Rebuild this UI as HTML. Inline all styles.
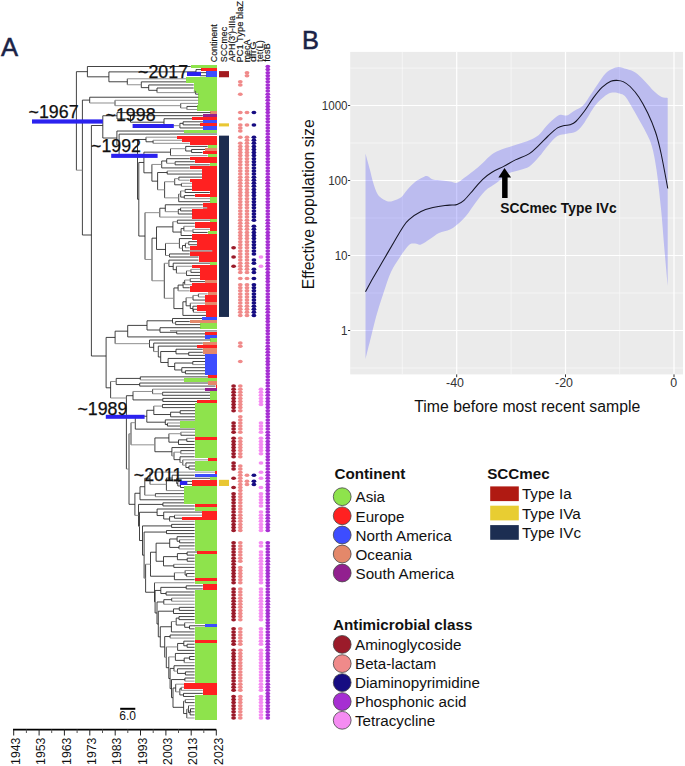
<!DOCTYPE html>
<html><head><meta charset="utf-8">
<style>
html,body{margin:0;padding:0;background:#fff;}
body{width:685px;height:766px;overflow:hidden;}
svg{display:block;font-family:"Liberation Sans",sans-serif;}
</style></head>
<body>
<svg width="685" height="766" viewBox="0 0 685 766">
<!-- Panel labels -->
<text x="1.1" y="55.7" font-size="25.6" fill="#1a2347" stroke="#1a2347" stroke-width="0.5">A</text>
<text x="302.1" y="48.9" font-size="25.4" fill="#1a2347" stroke="#1a2347" stroke-width="0.5">B</text>

<!-- Tree panel -->
<g id="tree">
<rect x="190.7" y="64.96" width="26.3" height="3.12" fill="#8ee34c" shape-rendering="crispEdges"/>
<rect x="201.4" y="68.04" width="15.6" height="3.12" fill="#ff2121" shape-rendering="crispEdges"/>
<rect x="206.3" y="71.11" width="10.7" height="3.12" fill="#3d4dff" shape-rendering="crispEdges"/>
<rect x="206.3" y="74.18" width="10.7" height="3.12" fill="#3d4dff" shape-rendering="crispEdges"/>
<rect x="186.0" y="77.26" width="31.0" height="3.12" fill="#8ee34c" shape-rendering="crispEdges"/>
<rect x="186.0" y="80.33" width="31.0" height="3.12" fill="#8ee34c" shape-rendering="crispEdges"/>
<rect x="193.7" y="83.40" width="23.3" height="3.12" fill="#8ee34c" shape-rendering="crispEdges"/>
<rect x="193.7" y="86.47" width="23.3" height="3.12" fill="#8ee34c" shape-rendering="crispEdges"/>
<rect x="193.7" y="89.55" width="23.3" height="3.12" fill="#8ee34c" shape-rendering="crispEdges"/>
<rect x="198.4" y="92.62" width="18.6" height="3.12" fill="#8ee34c" shape-rendering="crispEdges"/>
<rect x="198.4" y="95.69" width="18.6" height="3.12" fill="#8ee34c" shape-rendering="crispEdges"/>
<rect x="198.4" y="98.77" width="18.6" height="3.12" fill="#8ee34c" shape-rendering="crispEdges"/>
<rect x="198.4" y="101.84" width="18.6" height="3.12" fill="#8ee34c" shape-rendering="crispEdges"/>
<rect x="197.4" y="104.91" width="19.6" height="3.12" fill="#8ee34c" shape-rendering="crispEdges"/>
<rect x="197.4" y="107.99" width="19.6" height="3.12" fill="#8ee34c" shape-rendering="crispEdges"/>
<rect x="210.4" y="111.06" width="6.6" height="3.12" fill="#e4886a" shape-rendering="crispEdges"/>
<rect x="202.8" y="114.13" width="14.2" height="3.12" fill="#92208f" shape-rendering="crispEdges"/>
<rect x="192.0" y="117.20" width="25.0" height="3.12" fill="#ff2121" shape-rendering="crispEdges"/>
<rect x="203.0" y="120.28" width="14.0" height="3.12" fill="#3d4dff" shape-rendering="crispEdges"/>
<rect x="200.3" y="123.35" width="16.7" height="3.12" fill="#ff2121" shape-rendering="crispEdges"/>
<rect x="203.0" y="126.42" width="14.0" height="3.12" fill="#3d4dff" shape-rendering="crispEdges"/>
<rect x="184.0" y="129.50" width="33.0" height="3.12" fill="#8ee34c" shape-rendering="crispEdges"/>
<rect x="176.9" y="135.64" width="40.1" height="3.12" fill="#ff2121" shape-rendering="crispEdges"/>
<rect x="182.0" y="138.72" width="35.0" height="3.12" fill="#ff2121" shape-rendering="crispEdges"/>
<rect x="189.7" y="141.79" width="27.3" height="3.12" fill="#ff2121" shape-rendering="crispEdges"/>
<rect x="207.6" y="144.86" width="9.4" height="3.12" fill="#8ee34c" shape-rendering="crispEdges"/>
<rect x="205.0" y="147.93" width="12.0" height="3.12" fill="#e4886a" shape-rendering="crispEdges"/>
<rect x="202.5" y="151.01" width="14.5" height="3.12" fill="#ff2121" shape-rendering="crispEdges"/>
<rect x="207.6" y="154.08" width="9.4" height="3.12" fill="#8ee34c" shape-rendering="crispEdges"/>
<rect x="189.7" y="157.15" width="27.3" height="3.12" fill="#ff2121" shape-rendering="crispEdges"/>
<rect x="194.8" y="160.23" width="22.2" height="3.12" fill="#ff2121" shape-rendering="crispEdges"/>
<rect x="209.8" y="163.30" width="7.2" height="3.12" fill="#8ee34c" shape-rendering="crispEdges"/>
<rect x="189.7" y="166.37" width="27.3" height="3.12" fill="#ff2121" shape-rendering="crispEdges"/>
<rect x="202.0" y="169.45" width="15.0" height="3.12" fill="#ff2121" shape-rendering="crispEdges"/>
<rect x="202.0" y="172.52" width="15.0" height="3.12" fill="#ff2121" shape-rendering="crispEdges"/>
<rect x="202.0" y="175.59" width="15.0" height="3.12" fill="#ff2121" shape-rendering="crispEdges"/>
<rect x="189.7" y="178.66" width="27.3" height="3.12" fill="#ff2121" shape-rendering="crispEdges"/>
<rect x="191.9" y="181.74" width="25.1" height="3.12" fill="#ff2121" shape-rendering="crispEdges"/>
<rect x="191.9" y="184.81" width="25.1" height="3.12" fill="#ff2121" shape-rendering="crispEdges"/>
<rect x="191.9" y="187.88" width="25.1" height="3.12" fill="#ff2121" shape-rendering="crispEdges"/>
<rect x="209.8" y="190.96" width="7.2" height="3.12" fill="#ff2121" shape-rendering="crispEdges"/>
<rect x="194.8" y="194.03" width="22.2" height="3.12" fill="#ff2121" shape-rendering="crispEdges"/>
<rect x="210.1" y="197.10" width="6.9" height="3.12" fill="#8ee34c" shape-rendering="crispEdges"/>
<rect x="210.1" y="200.18" width="6.9" height="3.12" fill="#8ee34c" shape-rendering="crispEdges"/>
<rect x="202.8" y="203.25" width="14.2" height="3.12" fill="#ff2121" shape-rendering="crispEdges"/>
<rect x="202.8" y="206.32" width="14.2" height="3.12" fill="#ff2121" shape-rendering="crispEdges"/>
<rect x="192.3" y="209.39" width="24.7" height="3.12" fill="#ff2121" shape-rendering="crispEdges"/>
<rect x="192.3" y="212.47" width="24.7" height="3.12" fill="#ff2121" shape-rendering="crispEdges"/>
<rect x="192.3" y="215.54" width="24.7" height="3.12" fill="#ff2121" shape-rendering="crispEdges"/>
<rect x="210.1" y="218.61" width="6.9" height="3.12" fill="#8ee34c" shape-rendering="crispEdges"/>
<rect x="194.8" y="221.69" width="22.2" height="3.12" fill="#ff2121" shape-rendering="crispEdges"/>
<rect x="194.8" y="224.76" width="22.2" height="3.12" fill="#ff2121" shape-rendering="crispEdges"/>
<rect x="209.8" y="227.83" width="7.2" height="3.12" fill="#ff2121" shape-rendering="crispEdges"/>
<rect x="207.6" y="230.91" width="9.4" height="3.12" fill="#8ee34c" shape-rendering="crispEdges"/>
<rect x="191.9" y="233.98" width="25.1" height="3.12" fill="#ff2121" shape-rendering="crispEdges"/>
<rect x="191.9" y="237.05" width="25.1" height="3.12" fill="#ff2121" shape-rendering="crispEdges"/>
<rect x="197.0" y="240.12" width="20.0" height="3.12" fill="#ff2121" shape-rendering="crispEdges"/>
<rect x="197.0" y="243.20" width="20.0" height="3.12" fill="#ff2121" shape-rendering="crispEdges"/>
<rect x="189.7" y="246.27" width="27.3" height="3.12" fill="#ff2121" shape-rendering="crispEdges"/>
<rect x="189.7" y="249.34" width="27.3" height="3.12" fill="#ff2121" shape-rendering="crispEdges"/>
<rect x="189.7" y="252.42" width="27.3" height="3.12" fill="#ff2121" shape-rendering="crispEdges"/>
<rect x="198.5" y="255.49" width="18.5" height="3.12" fill="#ff2121" shape-rendering="crispEdges"/>
<rect x="198.5" y="258.56" width="18.5" height="3.12" fill="#ff2121" shape-rendering="crispEdges"/>
<rect x="210.0" y="261.64" width="7.0" height="3.12" fill="#8ee34c" shape-rendering="crispEdges"/>
<rect x="192.3" y="264.71" width="24.7" height="3.12" fill="#ff2121" shape-rendering="crispEdges"/>
<rect x="200.0" y="267.78" width="17.0" height="3.12" fill="#ff2121" shape-rendering="crispEdges"/>
<rect x="200.0" y="270.85" width="17.0" height="3.12" fill="#ff2121" shape-rendering="crispEdges"/>
<rect x="200.0" y="273.93" width="17.0" height="3.12" fill="#ff2121" shape-rendering="crispEdges"/>
<rect x="200.0" y="277.00" width="17.0" height="3.12" fill="#ff2121" shape-rendering="crispEdges"/>
<rect x="205.0" y="280.07" width="12.0" height="3.12" fill="#e4886a" shape-rendering="crispEdges"/>
<rect x="191.9" y="283.15" width="25.1" height="3.12" fill="#ff2121" shape-rendering="crispEdges"/>
<rect x="189.7" y="286.22" width="27.3" height="3.12" fill="#ff2121" shape-rendering="crispEdges"/>
<rect x="189.7" y="289.29" width="27.3" height="3.12" fill="#ff2121" shape-rendering="crispEdges"/>
<rect x="207.6" y="292.37" width="9.4" height="3.12" fill="#e4886a" shape-rendering="crispEdges"/>
<rect x="205.0" y="295.44" width="12.0" height="3.12" fill="#ff2121" shape-rendering="crispEdges"/>
<rect x="205.0" y="298.51" width="12.0" height="3.12" fill="#ff2121" shape-rendering="crispEdges"/>
<rect x="205.0" y="301.58" width="12.0" height="3.12" fill="#e4886a" shape-rendering="crispEdges"/>
<rect x="197.0" y="304.66" width="20.0" height="3.12" fill="#ff2121" shape-rendering="crispEdges"/>
<rect x="197.0" y="307.73" width="20.0" height="3.12" fill="#ff2121" shape-rendering="crispEdges"/>
<rect x="206.0" y="310.80" width="11.0" height="3.12" fill="#ff2121" shape-rendering="crispEdges"/>
<rect x="206.0" y="313.88" width="11.0" height="3.12" fill="#ff2121" shape-rendering="crispEdges"/>
<rect x="202.0" y="316.95" width="15.0" height="3.12" fill="#3d4dff" shape-rendering="crispEdges"/>
<rect x="189.7" y="320.02" width="27.3" height="3.12" fill="#e4886a" shape-rendering="crispEdges"/>
<rect x="200.3" y="323.10" width="16.7" height="3.12" fill="#8ee34c" shape-rendering="crispEdges"/>
<rect x="200.3" y="326.17" width="16.7" height="3.12" fill="#8ee34c" shape-rendering="crispEdges"/>
<rect x="205.0" y="332.31" width="12.0" height="3.12" fill="#ff2121" shape-rendering="crispEdges"/>
<rect x="205.0" y="335.39" width="12.0" height="3.12" fill="#3d4dff" shape-rendering="crispEdges"/>
<rect x="210.4" y="338.46" width="6.6" height="3.12" fill="#8ee34c" shape-rendering="crispEdges"/>
<rect x="202.8" y="341.53" width="14.2" height="3.12" fill="#e4886a" shape-rendering="crispEdges"/>
<rect x="197.0" y="344.61" width="20.0" height="3.12" fill="#ff2121" shape-rendering="crispEdges"/>
<rect x="202.8" y="347.68" width="14.2" height="3.12" fill="#e4886a" shape-rendering="crispEdges"/>
<rect x="202.8" y="350.75" width="14.2" height="3.12" fill="#e4886a" shape-rendering="crispEdges"/>
<rect x="205.0" y="353.83" width="12.0" height="3.12" fill="#3d4dff" shape-rendering="crispEdges"/>
<rect x="205.0" y="356.90" width="12.0" height="3.12" fill="#3d4dff" shape-rendering="crispEdges"/>
<rect x="205.0" y="359.97" width="12.0" height="3.12" fill="#3d4dff" shape-rendering="crispEdges"/>
<rect x="205.0" y="363.04" width="12.0" height="3.12" fill="#3d4dff" shape-rendering="crispEdges"/>
<rect x="205.0" y="366.12" width="12.0" height="3.12" fill="#3d4dff" shape-rendering="crispEdges"/>
<rect x="205.0" y="369.19" width="12.0" height="3.12" fill="#3d4dff" shape-rendering="crispEdges"/>
<rect x="205.0" y="372.26" width="12.0" height="3.12" fill="#3d4dff" shape-rendering="crispEdges"/>
<rect x="208.0" y="375.34" width="9.0" height="3.12" fill="#ff2121" shape-rendering="crispEdges"/>
<rect x="184.0" y="378.41" width="33.0" height="3.12" fill="#8ee34c" shape-rendering="crispEdges"/>
<rect x="208.0" y="381.48" width="9.0" height="3.12" fill="#e4886a" shape-rendering="crispEdges"/>
<rect x="215.5" y="384.56" width="1.5" height="3.12" fill="#ff2121" shape-rendering="crispEdges"/>
<rect x="205.0" y="387.63" width="12.0" height="3.12" fill="#92208f" shape-rendering="crispEdges"/>
<rect x="210.0" y="390.70" width="7.0" height="3.12" fill="#8ee34c" shape-rendering="crispEdges"/>
<rect x="210.0" y="393.77" width="7.0" height="3.12" fill="#8ee34c" shape-rendering="crispEdges"/>
<rect x="210.0" y="396.85" width="7.0" height="3.12" fill="#8ee34c" shape-rendering="crispEdges"/>
<rect x="197.0" y="399.92" width="20.0" height="3.12" fill="#ff2121" shape-rendering="crispEdges"/>
<rect x="195.0" y="402.99" width="22.0" height="3.12" fill="#8ee34c" shape-rendering="crispEdges"/>
<rect x="195.0" y="406.07" width="22.0" height="3.12" fill="#8ee34c" shape-rendering="crispEdges"/>
<rect x="195.0" y="409.14" width="22.0" height="3.12" fill="#8ee34c" shape-rendering="crispEdges"/>
<rect x="195.0" y="412.21" width="22.0" height="3.12" fill="#8ee34c" shape-rendering="crispEdges"/>
<rect x="195.0" y="415.29" width="22.0" height="3.12" fill="#8ee34c" shape-rendering="crispEdges"/>
<rect x="195.0" y="418.36" width="22.0" height="3.12" fill="#8ee34c" shape-rendering="crispEdges"/>
<rect x="180.0" y="421.43" width="37.0" height="3.12" fill="#8ee34c" shape-rendering="crispEdges"/>
<rect x="180.0" y="424.50" width="37.0" height="3.12" fill="#8ee34c" shape-rendering="crispEdges"/>
<rect x="195.0" y="427.58" width="22.0" height="3.12" fill="#8ee34c" shape-rendering="crispEdges"/>
<rect x="195.0" y="430.65" width="22.0" height="3.12" fill="#8ee34c" shape-rendering="crispEdges"/>
<rect x="195.0" y="433.72" width="22.0" height="3.12" fill="#8ee34c" shape-rendering="crispEdges"/>
<rect x="194.6" y="436.80" width="22.4" height="3.12" fill="#ff2121" shape-rendering="crispEdges"/>
<rect x="194.6" y="439.87" width="22.4" height="3.12" fill="#8ee34c" shape-rendering="crispEdges"/>
<rect x="194.6" y="442.94" width="22.4" height="3.12" fill="#8ee34c" shape-rendering="crispEdges"/>
<rect x="194.6" y="446.02" width="22.4" height="3.12" fill="#8ee34c" shape-rendering="crispEdges"/>
<rect x="194.6" y="449.09" width="22.4" height="3.12" fill="#8ee34c" shape-rendering="crispEdges"/>
<rect x="194.6" y="452.16" width="22.4" height="3.12" fill="#8ee34c" shape-rendering="crispEdges"/>
<rect x="194.6" y="455.23" width="22.4" height="3.12" fill="#8ee34c" shape-rendering="crispEdges"/>
<rect x="208.0" y="458.31" width="9.0" height="3.12" fill="#ff2121" shape-rendering="crispEdges"/>
<rect x="195.0" y="461.38" width="22.0" height="3.12" fill="#8ee34c" shape-rendering="crispEdges"/>
<rect x="195.0" y="464.45" width="22.0" height="3.12" fill="#8ee34c" shape-rendering="crispEdges"/>
<rect x="195.0" y="467.53" width="22.0" height="3.12" fill="#8ee34c" shape-rendering="crispEdges"/>
<rect x="215.0" y="470.60" width="2.0" height="3.12" fill="#ff2121" shape-rendering="crispEdges"/>
<rect x="194.6" y="473.67" width="22.4" height="3.12" fill="#3d4dff" shape-rendering="crispEdges"/>
<rect x="210.0" y="476.75" width="7.0" height="3.12" fill="#8ee34c" shape-rendering="crispEdges"/>
<rect x="192.0" y="479.82" width="25.0" height="3.12" fill="#ff2121" shape-rendering="crispEdges"/>
<rect x="192.0" y="482.89" width="25.0" height="3.12" fill="#ff2121" shape-rendering="crispEdges"/>
<rect x="184.0" y="485.96" width="33.0" height="3.12" fill="#8ee34c" shape-rendering="crispEdges"/>
<rect x="184.0" y="489.04" width="33.0" height="3.12" fill="#8ee34c" shape-rendering="crispEdges"/>
<rect x="184.0" y="492.11" width="33.0" height="3.12" fill="#8ee34c" shape-rendering="crispEdges"/>
<rect x="184.0" y="495.18" width="33.0" height="3.12" fill="#8ee34c" shape-rendering="crispEdges"/>
<rect x="184.0" y="498.26" width="33.0" height="3.12" fill="#8ee34c" shape-rendering="crispEdges"/>
<rect x="184.0" y="501.33" width="33.0" height="3.12" fill="#8ee34c" shape-rendering="crispEdges"/>
<rect x="194.6" y="504.40" width="22.4" height="3.12" fill="#ff2121" shape-rendering="crispEdges"/>
<rect x="194.6" y="507.48" width="22.4" height="3.12" fill="#8ee34c" shape-rendering="crispEdges"/>
<rect x="202.0" y="510.55" width="15.0" height="3.12" fill="#ff2121" shape-rendering="crispEdges"/>
<rect x="202.0" y="513.62" width="15.0" height="3.12" fill="#ff2121" shape-rendering="crispEdges"/>
<rect x="182.0" y="516.69" width="35.0" height="3.12" fill="#ff2121" shape-rendering="crispEdges"/>
<rect x="194.6" y="519.77" width="22.4" height="3.12" fill="#8ee34c" shape-rendering="crispEdges"/>
<rect x="194.6" y="522.84" width="22.4" height="3.12" fill="#8ee34c" shape-rendering="crispEdges"/>
<rect x="194.6" y="525.91" width="22.4" height="3.12" fill="#8ee34c" shape-rendering="crispEdges"/>
<rect x="194.6" y="528.99" width="22.4" height="3.12" fill="#8ee34c" shape-rendering="crispEdges"/>
<rect x="194.6" y="532.06" width="22.4" height="3.12" fill="#8ee34c" shape-rendering="crispEdges"/>
<rect x="194.6" y="535.13" width="22.4" height="3.12" fill="#8ee34c" shape-rendering="crispEdges"/>
<rect x="194.6" y="538.21" width="22.4" height="3.12" fill="#8ee34c" shape-rendering="crispEdges"/>
<rect x="194.6" y="541.28" width="22.4" height="3.12" fill="#8ee34c" shape-rendering="crispEdges"/>
<rect x="194.6" y="544.35" width="22.4" height="3.12" fill="#8ee34c" shape-rendering="crispEdges"/>
<rect x="194.6" y="547.42" width="22.4" height="3.12" fill="#8ee34c" shape-rendering="crispEdges"/>
<rect x="197.4" y="550.50" width="19.6" height="3.12" fill="#ff2121" shape-rendering="crispEdges"/>
<rect x="194.6" y="553.57" width="22.4" height="3.12" fill="#8ee34c" shape-rendering="crispEdges"/>
<rect x="194.6" y="556.64" width="22.4" height="3.12" fill="#8ee34c" shape-rendering="crispEdges"/>
<rect x="194.6" y="559.72" width="22.4" height="3.12" fill="#8ee34c" shape-rendering="crispEdges"/>
<rect x="194.6" y="562.79" width="22.4" height="3.12" fill="#8ee34c" shape-rendering="crispEdges"/>
<rect x="194.6" y="565.86" width="22.4" height="3.12" fill="#8ee34c" shape-rendering="crispEdges"/>
<rect x="194.6" y="568.94" width="22.4" height="3.12" fill="#8ee34c" shape-rendering="crispEdges"/>
<rect x="194.6" y="572.01" width="22.4" height="3.12" fill="#8ee34c" shape-rendering="crispEdges"/>
<rect x="194.6" y="575.08" width="22.4" height="3.12" fill="#8ee34c" shape-rendering="crispEdges"/>
<rect x="194.6" y="578.15" width="22.4" height="3.12" fill="#ff2121" shape-rendering="crispEdges"/>
<rect x="194.6" y="581.23" width="22.4" height="3.12" fill="#8ee34c" shape-rendering="crispEdges"/>
<rect x="202.8" y="584.30" width="14.2" height="3.12" fill="#ff2121" shape-rendering="crispEdges"/>
<rect x="202.8" y="587.37" width="14.2" height="3.12" fill="#ff2121" shape-rendering="crispEdges"/>
<rect x="194.6" y="590.45" width="22.4" height="3.12" fill="#8ee34c" shape-rendering="crispEdges"/>
<rect x="194.6" y="593.52" width="22.4" height="3.12" fill="#8ee34c" shape-rendering="crispEdges"/>
<rect x="194.6" y="596.59" width="22.4" height="3.12" fill="#8ee34c" shape-rendering="crispEdges"/>
<rect x="194.6" y="599.67" width="22.4" height="3.12" fill="#8ee34c" shape-rendering="crispEdges"/>
<rect x="194.6" y="602.74" width="22.4" height="3.12" fill="#8ee34c" shape-rendering="crispEdges"/>
<rect x="194.6" y="605.81" width="22.4" height="3.12" fill="#8ee34c" shape-rendering="crispEdges"/>
<rect x="194.6" y="608.88" width="22.4" height="3.12" fill="#8ee34c" shape-rendering="crispEdges"/>
<rect x="194.6" y="611.96" width="22.4" height="3.12" fill="#8ee34c" shape-rendering="crispEdges"/>
<rect x="194.6" y="615.03" width="22.4" height="3.12" fill="#8ee34c" shape-rendering="crispEdges"/>
<rect x="194.6" y="618.10" width="22.4" height="3.12" fill="#8ee34c" shape-rendering="crispEdges"/>
<rect x="194.6" y="621.18" width="22.4" height="3.12" fill="#8ee34c" shape-rendering="crispEdges"/>
<rect x="205.0" y="624.25" width="12.0" height="3.12" fill="#3d4dff" shape-rendering="crispEdges"/>
<rect x="194.6" y="627.32" width="22.4" height="3.12" fill="#8ee34c" shape-rendering="crispEdges"/>
<rect x="194.6" y="630.40" width="22.4" height="3.12" fill="#8ee34c" shape-rendering="crispEdges"/>
<rect x="194.6" y="633.47" width="22.4" height="3.12" fill="#8ee34c" shape-rendering="crispEdges"/>
<rect x="194.6" y="636.54" width="22.4" height="3.12" fill="#8ee34c" shape-rendering="crispEdges"/>
<rect x="194.6" y="639.61" width="22.4" height="3.12" fill="#ff2121" shape-rendering="crispEdges"/>
<rect x="194.6" y="642.69" width="22.4" height="3.12" fill="#8ee34c" shape-rendering="crispEdges"/>
<rect x="194.6" y="645.76" width="22.4" height="3.12" fill="#8ee34c" shape-rendering="crispEdges"/>
<rect x="194.6" y="648.83" width="22.4" height="3.12" fill="#8ee34c" shape-rendering="crispEdges"/>
<rect x="194.6" y="651.91" width="22.4" height="3.12" fill="#8ee34c" shape-rendering="crispEdges"/>
<rect x="194.6" y="654.98" width="22.4" height="3.12" fill="#8ee34c" shape-rendering="crispEdges"/>
<rect x="194.6" y="658.05" width="22.4" height="3.12" fill="#8ee34c" shape-rendering="crispEdges"/>
<rect x="194.6" y="661.13" width="22.4" height="3.12" fill="#8ee34c" shape-rendering="crispEdges"/>
<rect x="194.6" y="664.20" width="22.4" height="3.12" fill="#8ee34c" shape-rendering="crispEdges"/>
<rect x="194.6" y="667.27" width="22.4" height="3.12" fill="#8ee34c" shape-rendering="crispEdges"/>
<rect x="194.6" y="670.34" width="22.4" height="3.12" fill="#8ee34c" shape-rendering="crispEdges"/>
<rect x="194.6" y="673.42" width="22.4" height="3.12" fill="#8ee34c" shape-rendering="crispEdges"/>
<rect x="194.6" y="676.49" width="22.4" height="3.12" fill="#8ee34c" shape-rendering="crispEdges"/>
<rect x="194.6" y="679.56" width="22.4" height="3.12" fill="#8ee34c" shape-rendering="crispEdges"/>
<rect x="184.0" y="682.64" width="33.0" height="3.12" fill="#ff2121" shape-rendering="crispEdges"/>
<rect x="184.0" y="685.71" width="33.0" height="3.12" fill="#ff2121" shape-rendering="crispEdges"/>
<rect x="202.8" y="688.78" width="14.2" height="3.12" fill="#ff2121" shape-rendering="crispEdges"/>
<rect x="202.8" y="691.86" width="14.2" height="3.12" fill="#ff2121" shape-rendering="crispEdges"/>
<rect x="194.6" y="694.93" width="22.4" height="3.12" fill="#8ee34c" shape-rendering="crispEdges"/>
<rect x="194.6" y="698.00" width="22.4" height="3.12" fill="#8ee34c" shape-rendering="crispEdges"/>
<rect x="194.6" y="701.07" width="22.4" height="3.12" fill="#8ee34c" shape-rendering="crispEdges"/>
<rect x="194.6" y="704.15" width="22.4" height="3.12" fill="#8ee34c" shape-rendering="crispEdges"/>
<rect x="194.6" y="707.22" width="22.4" height="3.12" fill="#8ee34c" shape-rendering="crispEdges"/>
<rect x="194.6" y="710.29" width="22.4" height="3.12" fill="#8ee34c" shape-rendering="crispEdges"/>
<rect x="194.6" y="713.37" width="22.4" height="3.12" fill="#8ee34c" shape-rendering="crispEdges"/>
<rect x="194.6" y="716.44" width="22.4" height="3.12" fill="#8ee34c" shape-rendering="crispEdges"/>
<path d="M87.4 66.50L190.7 66.50M196.0 69.57L201.4 69.57M199.9 72.65L206.3 72.65M199.9 75.72L206.3 75.72M199.9 72.65L199.9 75.72M196.0 74.18L199.9 74.18M196.0 69.57L196.0 74.18M108.9 71.88L196.0 71.88M141.3 81.86L186.0 81.86M148.7 84.94L193.7 84.94M157.0 88.01L193.7 88.01M195.6 94.16L198.4 94.16M195.6 91.08L195.6 94.16M157.0 88.01L157.0 92.62M148.7 90.32L157.0 90.32M148.7 84.94L148.7 90.32M141.3 87.63L148.7 87.63M141.3 81.86L141.3 87.63M127.3 78.79L127.3 84.75M108.9 81.77L127.3 81.77M108.9 71.88L108.9 81.77M87.4 76.82L108.9 76.82M87.4 66.50L87.4 76.82M76.4 71.66L87.4 71.66M89.7 97.23L198.4 97.23M186.9 106.45L197.4 106.45M186.9 106.45L186.9 109.52M180.7 103.38L180.7 107.99M115.0 100.30L115.0 105.68M89.7 97.23L89.7 102.99M82.4 100.11L89.7 100.11M117.0 112.59L210.4 112.59M130.5 115.67L202.8 115.67M164.0 118.74L192.0 118.74M183.1 121.81L203.0 121.81M183.1 124.89L200.3 124.89M183.1 121.81L183.1 124.89M179.9 123.35L183.1 123.35M179.9 127.96L203.0 127.96M179.9 123.35L179.9 127.96M164.0 118.74L164.0 125.66M130.5 122.20L164.0 122.20M130.5 115.67L130.5 122.20M117.0 118.93L130.5 118.93M117.0 112.59L117.0 118.93M102.8 115.76L117.0 115.76M116.9 131.03L184.0 131.03M119.1 134.11L217.0 134.11M153.1 140.25L153.1 143.32M146.0 141.79L153.1 141.79M146.0 137.18L146.0 141.79M137.5 139.48L146.0 139.48M185.7 146.40L207.6 146.40M191.6 149.47L205.0 149.47M191.6 152.54L202.5 152.54M191.6 149.47L191.6 152.54M185.7 151.01L191.6 151.01M185.7 146.40L185.7 151.01M170.5 148.70L170.5 155.62M143.9 152.16L170.5 152.16M166.7 158.69L189.7 158.69M175.1 161.76L194.8 161.76M175.1 164.84L209.8 164.84M175.1 161.76L175.1 164.84M166.7 158.69L166.7 163.30M161.7 160.99L166.7 160.99M161.7 167.91L189.7 167.91M161.7 160.99L161.7 167.91M167.2 174.06L202.0 174.06M167.2 170.98L167.2 174.06M157.6 172.52L167.2 172.52M178.8 177.13L202.0 177.13M178.8 177.13L178.8 180.20M181.4 183.27L181.4 186.35M174.7 184.81L181.4 184.81M174.7 178.66L174.7 184.81M185.1 189.42L191.9 189.42M185.1 192.49L209.8 192.49M185.1 189.42L185.1 192.49M184.3 195.57L194.8 195.57M184.3 195.57L184.3 198.64M180.7 197.10L184.3 197.10M180.7 190.96L180.7 197.10M178.7 201.71L210.1 201.71M178.7 194.03L178.7 201.71M164.6 181.74L164.6 197.87M157.6 172.52L157.6 189.80M151.9 181.16L157.6 181.16M151.9 164.45L151.9 181.16M143.9 172.81L151.9 172.81M143.9 152.16L143.9 172.81M138.8 162.48L143.9 162.48M165.3 204.78L202.8 204.78M180.6 210.93L192.3 210.93M180.6 207.86L180.6 210.93M178.3 209.39L180.6 209.39M178.3 214.00L192.3 214.00M178.3 209.39L178.3 214.00M165.3 204.78L165.3 211.70M159.8 208.24L165.3 208.24M159.8 208.24L159.8 217.08M177.4 220.15L210.1 220.15M177.4 223.22L194.8 223.22M177.4 220.15L177.4 223.22M192.9 232.44L207.6 232.44M192.9 229.37L192.9 232.44M183.9 226.30L183.9 230.91M181.1 228.60L183.9 228.60M181.1 235.51L191.9 235.51M181.1 228.60L181.1 235.51M172.9 232.06L181.1 232.06M172.9 221.69L172.9 232.06M156.5 226.87L172.9 226.87M179.4 238.59L191.9 238.59M188.7 241.66L197.0 241.66M188.7 244.73L197.0 244.73M188.7 241.66L188.7 244.73M185.4 243.20L185.4 247.81M182.5 245.50L185.4 245.50M182.5 250.88L189.7 250.88M182.5 245.50L182.5 250.88M179.4 238.59L179.4 248.19M169.5 253.95L189.7 253.95M169.5 257.03L198.5 257.03M169.5 253.95L169.5 257.03M165.5 243.39L165.5 255.49M156.5 249.44L165.5 249.44M156.5 226.87L156.5 249.44M152.0 238.16L156.5 238.16M168.9 260.10L198.5 260.10M173.2 263.17L210.0 263.17M190.9 272.39L200.0 272.39M190.9 269.32L190.9 272.39M186.5 275.46L200.0 275.46M186.5 270.85L186.5 275.46M176.4 266.25L176.4 273.16M173.2 269.70L176.4 269.70M173.2 263.17L173.2 269.70M168.9 266.44L173.2 266.44M168.9 260.10L168.9 266.44M190.2 281.61L205.0 281.61M190.2 278.54L190.2 281.61M184.7 280.07L184.7 284.68M183.1 282.38L184.7 282.38M183.1 287.76L189.7 287.76M183.1 282.38L183.1 287.76M178.1 285.07L183.1 285.07M178.1 285.07L178.1 290.83M173.9 287.95L178.1 287.95M198.4 293.90L198.4 296.98M193.0 300.05L205.0 300.05M193.0 295.44L193.0 300.05M192.9 306.19L197.0 306.19M193.4 309.27L197.0 309.27M193.4 309.27L193.4 312.34M192.9 310.80L193.4 310.80M192.9 306.19L192.9 310.80M190.3 308.50L192.9 308.50M190.3 303.12L190.3 308.50M186.1 305.81L190.3 305.81M186.1 297.74L186.1 305.81M182.9 301.78L186.1 301.78M182.9 315.41L206.0 315.41M182.9 301.78L182.9 315.41M173.9 308.59L182.9 308.59M173.9 287.95L173.9 308.59M164.3 263.27L164.3 298.27M152.0 238.16L152.0 280.77M145.0 212.66L145.0 259.46M138.8 236.06L145.0 236.06M138.8 162.48L138.8 236.06M137.5 199.27L138.8 199.27M137.5 139.48L137.5 199.27M119.1 155.90L137.5 155.90M119.1 134.11L119.1 155.90M116.9 131.03L116.9 145.00M102.8 138.02L116.9 138.02M102.8 115.76L102.8 138.02M91.4 125.50L102.8 125.50M172.5 318.49L202.0 318.49M175.6 321.56L189.7 321.56M175.6 324.63L200.3 324.63M175.6 321.56L175.6 324.63M172.5 318.49L172.5 323.10M147.0 320.79L172.5 320.79M160.0 327.70L200.3 327.70M176.7 330.78L217.0 330.78M176.7 333.85L205.0 333.85M176.7 330.78L176.7 333.85M160.0 332.31L176.7 332.31M160.0 327.70L160.0 332.31M147.0 330.01L160.0 330.01M147.0 320.79L147.0 330.01M127.7 325.40L147.0 325.40M127.7 336.92L205.0 336.92M127.7 325.40L127.7 336.92M115.1 331.16L127.7 331.16M149.5 340.00L210.4 340.00M153.7 343.07L202.8 343.07M158.3 346.14L197.0 346.14M176.0 349.22L202.8 349.22M188.7 352.29L202.8 352.29M188.7 355.36L205.0 355.36M188.7 352.29L188.7 355.36M176.0 353.83L188.7 353.83M176.0 349.22L176.0 353.83M160.7 351.52L176.0 351.52M168.1 358.44L205.0 358.44M192.8 361.51L205.0 361.51M192.8 361.51L192.8 364.58M174.7 363.04L192.8 363.04M181.8 367.65L205.0 367.65M185.4 370.73L205.0 370.73M185.4 373.80L205.0 373.80M185.4 370.73L185.4 373.80M181.8 372.26L185.4 372.26M181.8 367.65L181.8 372.26M174.7 369.96L181.8 369.96M174.7 363.04L174.7 369.96M168.1 366.50L174.7 366.50M168.1 358.44L168.1 366.50M160.7 362.47L168.1 362.47M160.7 351.52L160.7 362.47M158.3 356.99L160.7 356.99M158.3 346.14L158.3 356.99M153.7 343.07L153.7 351.57M149.5 347.32L153.7 347.32M149.5 340.00L149.5 347.32M115.1 331.16L115.1 343.66M106.1 337.41L115.1 337.41M140.3 376.87L208.0 376.87M140.3 376.87L140.3 379.95M116.2 378.41L140.3 378.41M139.7 383.02L208.0 383.02M139.7 386.09L215.5 386.09M139.7 383.02L139.7 386.09M116.2 384.56L139.7 384.56M116.2 378.41L116.2 384.56M162.6 392.24L210.0 392.24M162.6 395.31L210.0 395.31M162.6 392.24L162.6 395.31M152.6 389.17L152.6 393.77M162.8 398.38L210.0 398.38M162.8 401.46L197.0 401.46M162.8 398.38L162.8 401.46M133.0 399.92L162.8 399.92M133.0 391.47L133.0 399.92M126.4 395.70L133.0 395.70M162.5 404.53L195.0 404.53M162.5 407.60L195.0 407.60M162.5 404.53L162.5 407.60M180.2 410.68L195.0 410.68M180.2 413.75L195.0 413.75M180.2 410.68L180.2 413.75M170.6 412.21L180.2 412.21M170.6 416.82L195.0 416.82M170.6 412.21L170.6 416.82M153.8 414.52L170.6 414.52M153.8 406.07L153.8 414.52M146.8 410.29L153.8 410.29M165.3 419.89L195.0 419.89M167.4 426.04L180.0 426.04M167.4 422.97L167.4 426.04M165.3 424.50L167.4 424.50M165.3 419.89L165.3 424.50M146.8 422.20L165.3 422.20M146.8 410.29L146.8 422.20M135.3 416.25L146.8 416.25M135.3 429.11L195.0 429.11M135.3 416.25L135.3 429.11M180.9 435.26L195.0 435.26M180.9 432.19L180.9 435.26M186.8 441.41L194.6 441.41M186.8 438.33L186.8 441.41M178.5 439.87L186.8 439.87M178.5 444.48L194.6 444.48M178.5 439.87L178.5 444.48M168.9 442.17L178.5 442.17M168.9 433.72L168.9 442.17M154.9 437.95L168.9 437.95M171.9 447.55L194.6 447.55M180.8 450.62L194.6 450.62M180.8 450.62L180.8 453.70M180.0 456.77L194.6 456.77M185.9 462.92L195.0 462.92M188.9 465.99L195.0 465.99M188.9 469.06L195.0 469.06M188.9 465.99L188.9 469.06M185.9 467.53L188.9 467.53M185.9 462.92L185.9 467.53M182.8 459.84L182.8 465.22M180.0 456.77L180.0 462.53M174.0 459.65L180.0 459.65M174.0 452.16L174.0 459.65M171.9 447.55L171.9 455.91M154.9 451.73L171.9 451.73M154.9 437.95L154.9 451.73M131.0 422.68L131.0 444.84M172.2 475.21L194.6 475.21M176.7 478.28L210.0 478.28M177.8 481.36L192.0 481.36M180.5 484.43L192.0 484.43M180.5 487.50L184.0 487.50M180.5 484.43L180.5 487.50M177.8 485.96L180.5 485.96M177.8 481.36L177.8 485.96M176.7 483.66L177.8 483.66M176.7 478.28L176.7 483.66M172.2 475.21L172.2 480.97M166.4 478.09L172.2 478.09M166.4 478.09L166.4 490.57M150.0 472.14L150.0 484.33M144.8 478.23L150.0 478.23M155.4 493.65L184.0 493.65M155.4 493.65L155.4 496.72M144.8 478.23L144.8 495.18M140.0 486.71L144.8 486.71M140.0 499.79L184.0 499.79M140.0 486.71L140.0 499.79M134.9 493.25L140.0 493.25M162.9 502.87L184.0 502.87M162.9 505.94L194.6 505.94M162.9 502.87L162.9 505.94M138.5 504.40L162.9 504.40M157.1 509.01L194.6 509.01M163.7 512.09L202.0 512.09M174.5 518.23L182.0 518.23M174.5 515.16L174.5 518.23M169.6 516.69L174.5 516.69M169.6 516.69L169.6 521.30M163.7 519.00L169.6 519.00M163.7 512.09L163.7 519.00M157.1 515.54L163.7 515.54M157.1 509.01L157.1 515.54M139.5 512.28L157.1 512.28M171.6 524.38L194.6 524.38M171.6 527.45L194.6 527.45M171.6 524.38L171.6 527.45M142.5 525.91L171.6 525.91M166.5 530.52L194.6 530.52M166.5 533.60L194.6 533.60M166.5 530.52L166.5 533.60M144.1 532.06L166.5 532.06M177.1 536.67L194.6 536.67M179.6 542.82L194.6 542.82M179.6 539.74L179.6 542.82M177.1 541.28L179.6 541.28M177.1 536.67L177.1 541.28M169.7 538.97L177.1 538.97M179.0 545.89L194.6 545.89M179.0 545.89L179.0 548.96M169.7 547.42L179.0 547.42M169.7 538.97L169.7 547.42M156.1 543.20L169.7 543.20M187.1 552.03L197.4 552.03M187.1 555.11L194.6 555.11M187.1 552.03L187.1 555.11M177.4 553.57L187.1 553.57M187.2 558.18L194.6 558.18M187.2 561.25L194.6 561.25M187.2 558.18L187.2 561.25M177.4 559.72L187.2 559.72M177.4 553.57L177.4 559.72M163.5 556.64L177.4 556.64M173.8 567.40L194.6 567.40M173.8 564.33L173.8 567.40M163.5 565.86L173.8 565.86M163.5 556.64L163.5 565.86M156.1 561.25L163.5 561.25M156.1 543.20L156.1 561.25M150.5 552.23L156.1 552.23M186.6 573.55L194.6 573.55M186.6 573.55L186.6 576.62M185.1 575.08L186.6 575.08M185.1 570.47L185.1 575.08M174.4 579.69L194.6 579.69M174.4 572.78L174.4 579.69M150.5 576.23L174.4 576.23M150.5 552.23L150.5 576.23M186.2 585.84L202.8 585.84M186.2 588.91L202.8 588.91M186.2 585.84L186.2 588.91M160.8 587.37L186.2 587.37M166.1 591.98L194.6 591.98M166.1 595.06L194.6 595.06M166.1 591.98L166.1 595.06M160.8 593.52L166.1 593.52M160.8 587.37L160.8 593.52M155.1 590.45L160.8 590.45M171.7 598.13L171.7 601.20M163.8 599.67L171.7 599.67M163.8 599.67L163.8 604.27M157.0 601.97L163.8 601.97M179.3 607.35L194.6 607.35M179.3 610.42L194.6 610.42M179.3 607.35L179.3 610.42M173.5 608.88L179.3 608.88M173.5 613.49L194.6 613.49M173.5 608.88L173.5 613.49M158.3 611.19L173.5 611.19M179.0 616.57L194.6 616.57M179.0 619.64L194.6 619.64M179.0 616.57L179.0 619.64M176.2 618.10L179.0 618.10M189.5 625.79L205.0 625.79M189.5 628.86L194.6 628.86M189.5 625.79L189.5 628.86M184.7 627.32L189.5 627.32M184.7 622.71L184.7 627.32M176.2 625.02L184.7 625.02M176.2 618.10L176.2 625.02M171.4 631.93L194.6 631.93M171.4 621.56L171.4 631.93M160.3 626.75L171.4 626.75M170.1 635.00L194.6 635.00M170.1 635.00L170.1 638.08M164.7 636.54L170.1 636.54M183.8 641.15L194.6 641.15M187.1 644.22L194.6 644.22M187.1 647.30L194.6 647.30M187.1 644.22L187.1 647.30M183.8 645.76L187.1 645.76M183.8 641.15L183.8 645.76M177.6 643.46L183.8 643.46M177.6 650.37L194.6 650.37M177.6 643.46L177.6 650.37M175.4 653.44L194.6 653.44M189.6 656.52L194.6 656.52M189.6 659.59L194.6 659.59M189.6 656.52L189.6 659.59M184.2 658.05L189.6 658.05M184.2 658.05L184.2 662.66M175.4 660.36L184.2 660.36M175.4 653.44L175.4 660.36M174.0 665.74L194.6 665.74M177.5 668.81L194.6 668.81M185.4 671.88L194.6 671.88M185.4 674.95L194.6 674.95M185.4 671.88L185.4 674.95M177.5 673.42L185.4 673.42M177.5 668.81L177.5 673.42M174.0 665.74L174.0 671.11M170.1 668.42L174.0 668.42M184.9 678.03L194.6 678.03M184.9 678.03L184.9 681.10M171.5 679.56L184.9 679.56M181.2 687.25L181.2 690.32M179.8 688.78L181.2 688.78M183.5 693.39L202.8 693.39M183.5 696.47L194.6 696.47M183.5 693.39L183.5 696.47M179.8 694.93L183.5 694.93M179.8 688.78L179.8 694.93M175.7 684.17L175.7 691.86M173.0 688.01L175.7 688.01M185.3 702.61L194.6 702.61M185.3 699.54L185.3 702.61M190.5 708.76L194.6 708.76M190.5 711.83L194.6 711.83M190.5 708.76L190.5 711.83M190.1 710.29L190.5 710.29M190.1 714.90L194.6 714.90M190.1 710.29L190.1 714.90M188.5 712.60L190.1 712.60M188.5 705.68L188.5 712.60M186.8 709.14L186.8 717.98M183.6 713.56L186.8 713.56M183.6 701.07L183.6 713.56M173.0 707.32L183.6 707.32M173.0 688.01L173.0 707.32M171.5 697.67L173.0 697.67M171.5 679.56L171.5 697.67M170.1 688.61L171.5 688.61M170.1 668.42L170.1 688.61M168.8 678.52L170.1 678.52M168.8 656.90L168.8 678.52M166.3 667.71L168.8 667.71M166.3 646.91L166.3 667.71M164.7 636.54L164.7 657.31M160.3 646.93L164.7 646.93M160.3 626.75L160.3 646.93M158.3 636.84L160.3 636.84M158.3 611.19L158.3 636.84M157.0 624.01L158.3 624.01M157.0 601.97L157.0 624.01M155.1 612.99L157.0 612.99M155.1 590.45L155.1 612.99M154.5 601.72L155.1 601.72M154.5 582.76L154.5 601.72M145.6 592.24L154.5 592.24M145.6 564.23L145.6 592.24M144.1 532.06L144.1 578.24M142.5 555.15L144.1 555.15M142.5 525.91L142.5 555.15M139.5 540.53L142.5 540.53M139.5 512.28L139.5 540.53M138.5 504.40L138.5 526.40M134.9 493.25L134.9 515.40M129.0 504.33L134.9 504.33M129.0 433.76L129.0 504.33M126.4 395.70L126.4 469.04M110.6 381.48L110.6 398.00M106.1 387.80L110.6 387.80M106.1 337.41L106.1 387.80M91.4 356.00L106.1 356.00M91.4 125.50L91.4 356.00M82.4 235.00L91.4 235.00M82.4 100.11L82.4 235.00M76.4 71.66L76.4 170.20" stroke="#222" stroke-width="0.85" fill="none"/>
<path d="M127.3 78.79L186.0 78.79M195.6 91.08L193.7 91.08M157.0 92.62L195.6 92.62M127.3 84.75L141.3 84.75M115.0 100.30L198.4 100.30M180.7 103.38L198.4 103.38M186.9 109.52L197.4 109.52M180.7 107.99L186.9 107.99M115.0 105.68L180.7 105.68M89.7 102.99L115.0 102.99M164.0 125.66L179.9 125.66M146.0 137.18L176.9 137.18M153.1 140.25L182.0 140.25M153.1 143.32L189.7 143.32M170.5 148.70L185.7 148.70M170.5 155.62L207.6 155.62M166.7 163.30L175.1 163.30M151.9 164.45L161.7 164.45M167.2 170.98L202.0 170.98M178.8 180.20L189.7 180.20M174.7 178.66L178.8 178.66M181.4 183.27L191.9 183.27M181.4 186.35L191.9 186.35M164.6 181.74L174.7 181.74M180.7 190.96L185.1 190.96M184.3 198.64L210.1 198.64M178.7 194.03L180.7 194.03M164.6 197.87L178.7 197.87M157.6 189.80L164.6 189.80M180.6 207.86L202.8 207.86M165.3 211.70L178.3 211.70M159.8 217.08L192.3 217.08M145.0 212.66L159.8 212.66M172.9 221.69L177.4 221.69M183.9 226.30L194.8 226.30M192.9 229.37L209.8 229.37M183.9 230.91L192.9 230.91M185.4 243.20L188.7 243.20M185.4 247.81L189.7 247.81M179.4 248.19L182.5 248.19M165.5 243.39L179.4 243.39M165.5 255.49L169.5 255.49M176.4 266.25L192.3 266.25M190.9 269.32L200.0 269.32M186.5 270.85L190.9 270.85M176.4 273.16L186.5 273.16M164.3 263.27L168.9 263.27M190.2 278.54L200.0 278.54M184.7 280.07L190.2 280.07M184.7 284.68L191.9 284.68M178.1 290.83L189.7 290.83M198.4 293.90L207.6 293.90M198.4 296.98L205.0 296.98M193.0 295.44L198.4 295.44M186.1 297.74L193.0 297.74M190.3 303.12L205.0 303.12M193.4 312.34L206.0 312.34M164.3 298.27L173.9 298.27M152.0 280.77L164.3 280.77M145.0 259.46L152.0 259.46M116.9 145.00L119.1 145.00M172.5 323.10L175.6 323.10M192.8 364.58L205.0 364.58M153.7 351.57L158.3 351.57M115.1 343.66L149.5 343.66M140.3 379.95L184.0 379.95M110.6 381.48L116.2 381.48M152.6 389.17L205.0 389.17M152.6 393.77L162.6 393.77M133.0 391.47L152.6 391.47M153.8 406.07L162.5 406.07M167.4 422.97L180.0 422.97M131.0 422.68L135.3 422.68M180.9 432.19L195.0 432.19M168.9 433.72L180.9 433.72M186.8 438.33L194.6 438.33M180.8 453.70L194.6 453.70M174.0 452.16L180.8 452.16M182.8 459.84L208.0 459.84M182.8 465.22L185.9 465.22M180.0 462.53L182.8 462.53M171.9 455.91L174.0 455.91M131.0 444.84L154.9 444.84M129.0 433.76L131.0 433.76M150.0 472.14L215.0 472.14M172.2 480.97L176.7 480.97M166.4 490.57L184.0 490.57M150.0 484.33L166.4 484.33M155.4 496.72L184.0 496.72M144.8 495.18L155.4 495.18M174.5 515.16L202.0 515.16M169.6 521.30L194.6 521.30M179.6 539.74L194.6 539.74M179.0 548.96L194.6 548.96M173.8 564.33L194.6 564.33M185.1 570.47L194.6 570.47M186.6 576.62L194.6 576.62M174.4 572.78L185.1 572.78M145.6 564.23L150.5 564.23M154.5 582.76L194.6 582.76M171.7 598.13L194.6 598.13M171.7 601.20L194.6 601.20M163.8 604.27L194.6 604.27M184.7 622.71L194.6 622.71M171.4 621.56L176.2 621.56M170.1 638.08L194.6 638.08M166.3 646.91L177.6 646.91M184.2 662.66L194.6 662.66M168.8 656.90L175.4 656.90M174.0 671.11L177.5 671.11M184.9 681.10L194.6 681.10M175.7 684.17L184.0 684.17M181.2 687.25L184.0 687.25M181.2 690.32L202.8 690.32M175.7 691.86L179.8 691.86M185.3 699.54L194.6 699.54M183.6 701.07L185.3 701.07M188.5 705.68L194.6 705.68M186.8 709.14L188.5 709.14M186.8 717.98L194.6 717.98M164.7 657.31L166.3 657.31M144.1 578.24L145.6 578.24M138.5 526.40L139.5 526.40M134.9 515.40L138.5 515.40M126.4 469.04L129.0 469.04M110.6 398.00L126.4 398.00M76.4 170.20L82.4 170.20" stroke="#8a8a8a" stroke-width="0.95" fill="none"/>
<path d="M170.0 134.11H217.0" stroke="#a0a0a0" stroke-width="1.5"/>
<path d="M170.0 330.78H217.0" stroke="#a0a0a0" stroke-width="1.5"/>
<path d="M189.7 250.88H212.3" stroke="#a8a8a8" stroke-width="1.6"/>
<path d="M202.8 207.86H207.2" stroke="#a8a8a8" stroke-width="1.6"/>
<rect x="219" y="71.11" width="10" height="6.15" fill="#a31a1f"/>
<rect x="219" y="123.35" width="10" height="3.07" fill="#e9c733"/>
<rect x="219" y="479.82" width="10" height="6.15" fill="#e9c733"/>
<rect x="219" y="135.64" width="10" height="181.31" fill="#1c2c4f"/>
<g fill="#9b1b2a"><ellipse cx="233.6" cy="247.81" rx="2.4" ry="1.75"/><ellipse cx="233.6" cy="257.03" rx="2.4" ry="1.75"/><ellipse cx="233.6" cy="266.25" rx="2.4" ry="1.75"/><ellipse cx="233.6" cy="386.09" rx="2.4" ry="1.75"/><ellipse cx="233.6" cy="389.17" rx="2.4" ry="1.75"/><ellipse cx="233.6" cy="392.24" rx="2.4" ry="1.75"/><ellipse cx="233.6" cy="395.31" rx="2.4" ry="1.75"/><ellipse cx="233.6" cy="398.38" rx="2.4" ry="1.75"/><ellipse cx="233.6" cy="401.46" rx="2.4" ry="1.75"/><ellipse cx="233.6" cy="404.53" rx="2.4" ry="1.75"/><ellipse cx="233.6" cy="407.60" rx="2.4" ry="1.75"/><ellipse cx="233.6" cy="410.68" rx="2.4" ry="1.75"/><ellipse cx="233.6" cy="422.97" rx="2.4" ry="1.75"/><ellipse cx="233.6" cy="426.04" rx="2.4" ry="1.75"/><ellipse cx="233.6" cy="429.11" rx="2.4" ry="1.75"/><ellipse cx="233.6" cy="432.19" rx="2.4" ry="1.75"/><ellipse cx="233.6" cy="438.33" rx="2.4" ry="1.75"/><ellipse cx="233.6" cy="441.41" rx="2.4" ry="1.75"/><ellipse cx="233.6" cy="444.48" rx="2.4" ry="1.75"/><ellipse cx="233.6" cy="447.55" rx="2.4" ry="1.75"/><ellipse cx="233.6" cy="450.62" rx="2.4" ry="1.75"/><ellipse cx="233.6" cy="453.70" rx="2.4" ry="1.75"/><ellipse cx="233.6" cy="456.77" rx="2.4" ry="1.75"/><ellipse cx="233.6" cy="462.92" rx="2.4" ry="1.75"/><ellipse cx="233.6" cy="465.99" rx="2.4" ry="1.75"/><ellipse cx="233.6" cy="469.06" rx="2.4" ry="1.75"/><ellipse cx="233.6" cy="478.28" rx="2.4" ry="1.75"/><ellipse cx="233.6" cy="487.50" rx="2.4" ry="1.75"/><ellipse cx="233.6" cy="493.65" rx="2.4" ry="1.75"/><ellipse cx="233.6" cy="496.72" rx="2.4" ry="1.75"/><ellipse cx="233.6" cy="499.79" rx="2.4" ry="1.75"/><ellipse cx="233.6" cy="502.87" rx="2.4" ry="1.75"/><ellipse cx="233.6" cy="505.94" rx="2.4" ry="1.75"/><ellipse cx="233.6" cy="509.01" rx="2.4" ry="1.75"/><ellipse cx="233.6" cy="512.09" rx="2.4" ry="1.75"/><ellipse cx="233.6" cy="515.16" rx="2.4" ry="1.75"/><ellipse cx="233.6" cy="518.23" rx="2.4" ry="1.75"/><ellipse cx="233.6" cy="521.30" rx="2.4" ry="1.75"/><ellipse cx="233.6" cy="524.38" rx="2.4" ry="1.75"/><ellipse cx="233.6" cy="527.45" rx="2.4" ry="1.75"/><ellipse cx="233.6" cy="530.52" rx="2.4" ry="1.75"/><ellipse cx="233.6" cy="542.82" rx="2.4" ry="1.75"/><ellipse cx="233.6" cy="545.89" rx="2.4" ry="1.75"/><ellipse cx="233.6" cy="548.96" rx="2.4" ry="1.75"/><ellipse cx="233.6" cy="552.03" rx="2.4" ry="1.75"/><ellipse cx="233.6" cy="555.11" rx="2.4" ry="1.75"/><ellipse cx="233.6" cy="558.18" rx="2.4" ry="1.75"/><ellipse cx="233.6" cy="561.25" rx="2.4" ry="1.75"/><ellipse cx="233.6" cy="564.33" rx="2.4" ry="1.75"/><ellipse cx="233.6" cy="567.40" rx="2.4" ry="1.75"/><ellipse cx="233.6" cy="570.47" rx="2.4" ry="1.75"/><ellipse cx="233.6" cy="573.55" rx="2.4" ry="1.75"/><ellipse cx="233.6" cy="576.62" rx="2.4" ry="1.75"/><ellipse cx="233.6" cy="579.69" rx="2.4" ry="1.75"/><ellipse cx="233.6" cy="582.76" rx="2.4" ry="1.75"/><ellipse cx="233.6" cy="588.91" rx="2.4" ry="1.75"/><ellipse cx="233.6" cy="591.98" rx="2.4" ry="1.75"/><ellipse cx="233.6" cy="595.06" rx="2.4" ry="1.75"/><ellipse cx="233.6" cy="598.13" rx="2.4" ry="1.75"/><ellipse cx="233.6" cy="601.20" rx="2.4" ry="1.75"/><ellipse cx="233.6" cy="604.27" rx="2.4" ry="1.75"/><ellipse cx="233.6" cy="607.35" rx="2.4" ry="1.75"/><ellipse cx="233.6" cy="610.42" rx="2.4" ry="1.75"/><ellipse cx="233.6" cy="613.49" rx="2.4" ry="1.75"/><ellipse cx="233.6" cy="616.57" rx="2.4" ry="1.75"/><ellipse cx="233.6" cy="619.64" rx="2.4" ry="1.75"/><ellipse cx="233.6" cy="628.86" rx="2.4" ry="1.75"/><ellipse cx="233.6" cy="631.93" rx="2.4" ry="1.75"/><ellipse cx="233.6" cy="635.00" rx="2.4" ry="1.75"/><ellipse cx="233.6" cy="638.08" rx="2.4" ry="1.75"/><ellipse cx="233.6" cy="641.15" rx="2.4" ry="1.75"/><ellipse cx="233.6" cy="644.22" rx="2.4" ry="1.75"/><ellipse cx="233.6" cy="650.37" rx="2.4" ry="1.75"/><ellipse cx="233.6" cy="653.44" rx="2.4" ry="1.75"/><ellipse cx="233.6" cy="656.52" rx="2.4" ry="1.75"/><ellipse cx="233.6" cy="659.59" rx="2.4" ry="1.75"/><ellipse cx="233.6" cy="662.66" rx="2.4" ry="1.75"/><ellipse cx="233.6" cy="665.74" rx="2.4" ry="1.75"/><ellipse cx="233.6" cy="668.81" rx="2.4" ry="1.75"/><ellipse cx="233.6" cy="671.88" rx="2.4" ry="1.75"/><ellipse cx="233.6" cy="674.95" rx="2.4" ry="1.75"/><ellipse cx="233.6" cy="678.03" rx="2.4" ry="1.75"/><ellipse cx="233.6" cy="681.10" rx="2.4" ry="1.75"/><ellipse cx="233.6" cy="684.17" rx="2.4" ry="1.75"/><ellipse cx="233.6" cy="687.25" rx="2.4" ry="1.75"/><ellipse cx="233.6" cy="690.32" rx="2.4" ry="1.75"/><ellipse cx="233.6" cy="696.47" rx="2.4" ry="1.75"/><ellipse cx="233.6" cy="699.54" rx="2.4" ry="1.75"/><ellipse cx="233.6" cy="702.61" rx="2.4" ry="1.75"/><ellipse cx="233.6" cy="705.68" rx="2.4" ry="1.75"/><ellipse cx="233.6" cy="708.76" rx="2.4" ry="1.75"/><ellipse cx="233.6" cy="711.83" rx="2.4" ry="1.75"/><ellipse cx="233.6" cy="714.90" rx="2.4" ry="1.75"/><ellipse cx="233.6" cy="717.98" rx="2.4" ry="1.75"/></g>
<g fill="#f08a8a"><ellipse cx="240.3" cy="81.86" rx="2.4" ry="1.75"/><ellipse cx="240.3" cy="84.94" rx="2.4" ry="1.75"/><ellipse cx="240.3" cy="94.16" rx="2.4" ry="1.75"/><ellipse cx="240.3" cy="112.59" rx="2.4" ry="1.75"/><ellipse cx="240.3" cy="118.74" rx="2.4" ry="1.75"/><ellipse cx="240.3" cy="124.89" rx="2.4" ry="1.75"/><ellipse cx="240.3" cy="127.96" rx="2.4" ry="1.75"/><ellipse cx="240.3" cy="131.03" rx="2.4" ry="1.75"/><ellipse cx="240.3" cy="137.18" rx="2.4" ry="1.75"/><ellipse cx="240.3" cy="143.32" rx="2.4" ry="1.75"/><ellipse cx="240.3" cy="146.40" rx="2.4" ry="1.75"/><ellipse cx="240.3" cy="149.47" rx="2.4" ry="1.75"/><ellipse cx="240.3" cy="152.54" rx="2.4" ry="1.75"/><ellipse cx="240.3" cy="155.62" rx="2.4" ry="1.75"/><ellipse cx="240.3" cy="158.69" rx="2.4" ry="1.75"/><ellipse cx="240.3" cy="161.76" rx="2.4" ry="1.75"/><ellipse cx="240.3" cy="164.84" rx="2.4" ry="1.75"/><ellipse cx="240.3" cy="167.91" rx="2.4" ry="1.75"/><ellipse cx="240.3" cy="170.98" rx="2.4" ry="1.75"/><ellipse cx="240.3" cy="174.06" rx="2.4" ry="1.75"/><ellipse cx="240.3" cy="177.13" rx="2.4" ry="1.75"/><ellipse cx="240.3" cy="180.20" rx="2.4" ry="1.75"/><ellipse cx="240.3" cy="183.27" rx="2.4" ry="1.75"/><ellipse cx="240.3" cy="186.35" rx="2.4" ry="1.75"/><ellipse cx="240.3" cy="189.42" rx="2.4" ry="1.75"/><ellipse cx="240.3" cy="192.49" rx="2.4" ry="1.75"/><ellipse cx="240.3" cy="195.57" rx="2.4" ry="1.75"/><ellipse cx="240.3" cy="198.64" rx="2.4" ry="1.75"/><ellipse cx="240.3" cy="201.71" rx="2.4" ry="1.75"/><ellipse cx="240.3" cy="204.78" rx="2.4" ry="1.75"/><ellipse cx="240.3" cy="207.86" rx="2.4" ry="1.75"/><ellipse cx="240.3" cy="210.93" rx="2.4" ry="1.75"/><ellipse cx="240.3" cy="214.00" rx="2.4" ry="1.75"/><ellipse cx="240.3" cy="217.08" rx="2.4" ry="1.75"/><ellipse cx="240.3" cy="220.15" rx="2.4" ry="1.75"/><ellipse cx="240.3" cy="223.22" rx="2.4" ry="1.75"/><ellipse cx="240.3" cy="226.30" rx="2.4" ry="1.75"/><ellipse cx="240.3" cy="229.37" rx="2.4" ry="1.75"/><ellipse cx="240.3" cy="232.44" rx="2.4" ry="1.75"/><ellipse cx="240.3" cy="235.51" rx="2.4" ry="1.75"/><ellipse cx="240.3" cy="238.59" rx="2.4" ry="1.75"/><ellipse cx="240.3" cy="241.66" rx="2.4" ry="1.75"/><ellipse cx="240.3" cy="244.73" rx="2.4" ry="1.75"/><ellipse cx="240.3" cy="247.81" rx="2.4" ry="1.75"/><ellipse cx="240.3" cy="250.88" rx="2.4" ry="1.75"/><ellipse cx="240.3" cy="253.95" rx="2.4" ry="1.75"/><ellipse cx="240.3" cy="257.03" rx="2.4" ry="1.75"/><ellipse cx="240.3" cy="260.10" rx="2.4" ry="1.75"/><ellipse cx="240.3" cy="263.17" rx="2.4" ry="1.75"/><ellipse cx="240.3" cy="266.25" rx="2.4" ry="1.75"/><ellipse cx="240.3" cy="269.32" rx="2.4" ry="1.75"/><ellipse cx="240.3" cy="272.39" rx="2.4" ry="1.75"/><ellipse cx="240.3" cy="278.54" rx="2.4" ry="1.75"/><ellipse cx="240.3" cy="284.68" rx="2.4" ry="1.75"/><ellipse cx="240.3" cy="287.76" rx="2.4" ry="1.75"/><ellipse cx="240.3" cy="290.83" rx="2.4" ry="1.75"/><ellipse cx="240.3" cy="293.90" rx="2.4" ry="1.75"/><ellipse cx="240.3" cy="296.98" rx="2.4" ry="1.75"/><ellipse cx="240.3" cy="300.05" rx="2.4" ry="1.75"/><ellipse cx="240.3" cy="303.12" rx="2.4" ry="1.75"/><ellipse cx="240.3" cy="306.19" rx="2.4" ry="1.75"/><ellipse cx="240.3" cy="309.27" rx="2.4" ry="1.75"/><ellipse cx="240.3" cy="312.34" rx="2.4" ry="1.75"/><ellipse cx="240.3" cy="315.41" rx="2.4" ry="1.75"/><ellipse cx="240.3" cy="343.07" rx="2.4" ry="1.75"/><ellipse cx="240.3" cy="346.14" rx="2.4" ry="1.75"/><ellipse cx="240.3" cy="361.51" rx="2.4" ry="1.75"/><ellipse cx="240.3" cy="386.09" rx="2.4" ry="1.75"/><ellipse cx="240.3" cy="389.17" rx="2.4" ry="1.75"/><ellipse cx="240.3" cy="392.24" rx="2.4" ry="1.75"/><ellipse cx="240.3" cy="395.31" rx="2.4" ry="1.75"/><ellipse cx="240.3" cy="398.38" rx="2.4" ry="1.75"/><ellipse cx="240.3" cy="401.46" rx="2.4" ry="1.75"/><ellipse cx="240.3" cy="404.53" rx="2.4" ry="1.75"/><ellipse cx="240.3" cy="407.60" rx="2.4" ry="1.75"/><ellipse cx="240.3" cy="410.68" rx="2.4" ry="1.75"/><ellipse cx="240.3" cy="416.82" rx="2.4" ry="1.75"/><ellipse cx="240.3" cy="419.89" rx="2.4" ry="1.75"/><ellipse cx="240.3" cy="422.97" rx="2.4" ry="1.75"/><ellipse cx="240.3" cy="426.04" rx="2.4" ry="1.75"/><ellipse cx="240.3" cy="429.11" rx="2.4" ry="1.75"/><ellipse cx="240.3" cy="432.19" rx="2.4" ry="1.75"/><ellipse cx="240.3" cy="438.33" rx="2.4" ry="1.75"/><ellipse cx="240.3" cy="441.41" rx="2.4" ry="1.75"/><ellipse cx="240.3" cy="444.48" rx="2.4" ry="1.75"/><ellipse cx="240.3" cy="447.55" rx="2.4" ry="1.75"/><ellipse cx="240.3" cy="450.62" rx="2.4" ry="1.75"/><ellipse cx="240.3" cy="453.70" rx="2.4" ry="1.75"/><ellipse cx="240.3" cy="456.77" rx="2.4" ry="1.75"/><ellipse cx="240.3" cy="465.99" rx="2.4" ry="1.75"/><ellipse cx="240.3" cy="469.06" rx="2.4" ry="1.75"/><ellipse cx="240.3" cy="472.14" rx="2.4" ry="1.75"/><ellipse cx="240.3" cy="475.21" rx="2.4" ry="1.75"/><ellipse cx="240.3" cy="478.28" rx="2.4" ry="1.75"/><ellipse cx="240.3" cy="481.36" rx="2.4" ry="1.75"/><ellipse cx="240.3" cy="484.43" rx="2.4" ry="1.75"/><ellipse cx="240.3" cy="487.50" rx="2.4" ry="1.75"/><ellipse cx="240.3" cy="490.57" rx="2.4" ry="1.75"/><ellipse cx="240.3" cy="493.65" rx="2.4" ry="1.75"/><ellipse cx="240.3" cy="496.72" rx="2.4" ry="1.75"/><ellipse cx="240.3" cy="499.79" rx="2.4" ry="1.75"/><ellipse cx="240.3" cy="502.87" rx="2.4" ry="1.75"/><ellipse cx="240.3" cy="505.94" rx="2.4" ry="1.75"/><ellipse cx="240.3" cy="509.01" rx="2.4" ry="1.75"/><ellipse cx="240.3" cy="512.09" rx="2.4" ry="1.75"/><ellipse cx="240.3" cy="515.16" rx="2.4" ry="1.75"/><ellipse cx="240.3" cy="518.23" rx="2.4" ry="1.75"/><ellipse cx="240.3" cy="521.30" rx="2.4" ry="1.75"/><ellipse cx="240.3" cy="524.38" rx="2.4" ry="1.75"/><ellipse cx="240.3" cy="527.45" rx="2.4" ry="1.75"/><ellipse cx="240.3" cy="530.52" rx="2.4" ry="1.75"/><ellipse cx="240.3" cy="542.82" rx="2.4" ry="1.75"/><ellipse cx="240.3" cy="545.89" rx="2.4" ry="1.75"/><ellipse cx="240.3" cy="548.96" rx="2.4" ry="1.75"/><ellipse cx="240.3" cy="552.03" rx="2.4" ry="1.75"/><ellipse cx="240.3" cy="555.11" rx="2.4" ry="1.75"/><ellipse cx="240.3" cy="558.18" rx="2.4" ry="1.75"/><ellipse cx="240.3" cy="561.25" rx="2.4" ry="1.75"/><ellipse cx="240.3" cy="567.40" rx="2.4" ry="1.75"/><ellipse cx="240.3" cy="570.47" rx="2.4" ry="1.75"/><ellipse cx="240.3" cy="573.55" rx="2.4" ry="1.75"/><ellipse cx="240.3" cy="576.62" rx="2.4" ry="1.75"/><ellipse cx="240.3" cy="579.69" rx="2.4" ry="1.75"/><ellipse cx="240.3" cy="582.76" rx="2.4" ry="1.75"/><ellipse cx="240.3" cy="588.91" rx="2.4" ry="1.75"/><ellipse cx="240.3" cy="591.98" rx="2.4" ry="1.75"/><ellipse cx="240.3" cy="595.06" rx="2.4" ry="1.75"/><ellipse cx="240.3" cy="598.13" rx="2.4" ry="1.75"/><ellipse cx="240.3" cy="601.20" rx="2.4" ry="1.75"/><ellipse cx="240.3" cy="604.27" rx="2.4" ry="1.75"/><ellipse cx="240.3" cy="607.35" rx="2.4" ry="1.75"/><ellipse cx="240.3" cy="610.42" rx="2.4" ry="1.75"/><ellipse cx="240.3" cy="613.49" rx="2.4" ry="1.75"/><ellipse cx="240.3" cy="616.57" rx="2.4" ry="1.75"/><ellipse cx="240.3" cy="619.64" rx="2.4" ry="1.75"/><ellipse cx="240.3" cy="628.86" rx="2.4" ry="1.75"/><ellipse cx="240.3" cy="631.93" rx="2.4" ry="1.75"/><ellipse cx="240.3" cy="635.00" rx="2.4" ry="1.75"/><ellipse cx="240.3" cy="638.08" rx="2.4" ry="1.75"/><ellipse cx="240.3" cy="641.15" rx="2.4" ry="1.75"/><ellipse cx="240.3" cy="644.22" rx="2.4" ry="1.75"/><ellipse cx="240.3" cy="650.37" rx="2.4" ry="1.75"/><ellipse cx="240.3" cy="653.44" rx="2.4" ry="1.75"/><ellipse cx="240.3" cy="656.52" rx="2.4" ry="1.75"/><ellipse cx="240.3" cy="659.59" rx="2.4" ry="1.75"/><ellipse cx="240.3" cy="662.66" rx="2.4" ry="1.75"/><ellipse cx="240.3" cy="665.74" rx="2.4" ry="1.75"/><ellipse cx="240.3" cy="668.81" rx="2.4" ry="1.75"/><ellipse cx="240.3" cy="671.88" rx="2.4" ry="1.75"/><ellipse cx="240.3" cy="674.95" rx="2.4" ry="1.75"/><ellipse cx="240.3" cy="678.03" rx="2.4" ry="1.75"/><ellipse cx="240.3" cy="681.10" rx="2.4" ry="1.75"/><ellipse cx="240.3" cy="684.17" rx="2.4" ry="1.75"/><ellipse cx="240.3" cy="687.25" rx="2.4" ry="1.75"/><ellipse cx="240.3" cy="690.32" rx="2.4" ry="1.75"/><ellipse cx="240.3" cy="696.47" rx="2.4" ry="1.75"/><ellipse cx="240.3" cy="699.54" rx="2.4" ry="1.75"/><ellipse cx="240.3" cy="702.61" rx="2.4" ry="1.75"/><ellipse cx="240.3" cy="705.68" rx="2.4" ry="1.75"/><ellipse cx="240.3" cy="708.76" rx="2.4" ry="1.75"/><ellipse cx="240.3" cy="711.83" rx="2.4" ry="1.75"/><ellipse cx="240.3" cy="714.90" rx="2.4" ry="1.75"/><ellipse cx="240.3" cy="717.98" rx="2.4" ry="1.75"/></g>
<g fill="#f08a8a"><ellipse cx="247.0" cy="72.65" rx="2.4" ry="1.75"/><ellipse cx="247.0" cy="75.72" rx="2.4" ry="1.75"/><ellipse cx="247.0" cy="112.59" rx="2.4" ry="1.75"/><ellipse cx="247.0" cy="124.89" rx="2.4" ry="1.75"/><ellipse cx="247.0" cy="137.18" rx="2.4" ry="1.75"/><ellipse cx="247.0" cy="140.25" rx="2.4" ry="1.75"/><ellipse cx="247.0" cy="143.32" rx="2.4" ry="1.75"/><ellipse cx="247.0" cy="146.40" rx="2.4" ry="1.75"/><ellipse cx="247.0" cy="149.47" rx="2.4" ry="1.75"/><ellipse cx="247.0" cy="152.54" rx="2.4" ry="1.75"/><ellipse cx="247.0" cy="155.62" rx="2.4" ry="1.75"/><ellipse cx="247.0" cy="158.69" rx="2.4" ry="1.75"/><ellipse cx="247.0" cy="161.76" rx="2.4" ry="1.75"/><ellipse cx="247.0" cy="164.84" rx="2.4" ry="1.75"/><ellipse cx="247.0" cy="167.91" rx="2.4" ry="1.75"/><ellipse cx="247.0" cy="170.98" rx="2.4" ry="1.75"/><ellipse cx="247.0" cy="174.06" rx="2.4" ry="1.75"/><ellipse cx="247.0" cy="177.13" rx="2.4" ry="1.75"/><ellipse cx="247.0" cy="180.20" rx="2.4" ry="1.75"/><ellipse cx="247.0" cy="183.27" rx="2.4" ry="1.75"/><ellipse cx="247.0" cy="186.35" rx="2.4" ry="1.75"/><ellipse cx="247.0" cy="189.42" rx="2.4" ry="1.75"/><ellipse cx="247.0" cy="192.49" rx="2.4" ry="1.75"/><ellipse cx="247.0" cy="195.57" rx="2.4" ry="1.75"/><ellipse cx="247.0" cy="198.64" rx="2.4" ry="1.75"/><ellipse cx="247.0" cy="201.71" rx="2.4" ry="1.75"/><ellipse cx="247.0" cy="204.78" rx="2.4" ry="1.75"/><ellipse cx="247.0" cy="207.86" rx="2.4" ry="1.75"/><ellipse cx="247.0" cy="210.93" rx="2.4" ry="1.75"/><ellipse cx="247.0" cy="214.00" rx="2.4" ry="1.75"/><ellipse cx="247.0" cy="217.08" rx="2.4" ry="1.75"/><ellipse cx="247.0" cy="220.15" rx="2.4" ry="1.75"/><ellipse cx="247.0" cy="223.22" rx="2.4" ry="1.75"/><ellipse cx="247.0" cy="226.30" rx="2.4" ry="1.75"/><ellipse cx="247.0" cy="229.37" rx="2.4" ry="1.75"/><ellipse cx="247.0" cy="232.44" rx="2.4" ry="1.75"/><ellipse cx="247.0" cy="235.51" rx="2.4" ry="1.75"/><ellipse cx="247.0" cy="238.59" rx="2.4" ry="1.75"/><ellipse cx="247.0" cy="241.66" rx="2.4" ry="1.75"/><ellipse cx="247.0" cy="244.73" rx="2.4" ry="1.75"/><ellipse cx="247.0" cy="247.81" rx="2.4" ry="1.75"/><ellipse cx="247.0" cy="250.88" rx="2.4" ry="1.75"/><ellipse cx="247.0" cy="253.95" rx="2.4" ry="1.75"/><ellipse cx="247.0" cy="257.03" rx="2.4" ry="1.75"/><ellipse cx="247.0" cy="260.10" rx="2.4" ry="1.75"/><ellipse cx="247.0" cy="263.17" rx="2.4" ry="1.75"/><ellipse cx="247.0" cy="266.25" rx="2.4" ry="1.75"/><ellipse cx="247.0" cy="269.32" rx="2.4" ry="1.75"/><ellipse cx="247.0" cy="272.39" rx="2.4" ry="1.75"/><ellipse cx="247.0" cy="278.54" rx="2.4" ry="1.75"/><ellipse cx="247.0" cy="284.68" rx="2.4" ry="1.75"/><ellipse cx="247.0" cy="287.76" rx="2.4" ry="1.75"/><ellipse cx="247.0" cy="290.83" rx="2.4" ry="1.75"/><ellipse cx="247.0" cy="293.90" rx="2.4" ry="1.75"/><ellipse cx="247.0" cy="296.98" rx="2.4" ry="1.75"/><ellipse cx="247.0" cy="300.05" rx="2.4" ry="1.75"/><ellipse cx="247.0" cy="303.12" rx="2.4" ry="1.75"/><ellipse cx="247.0" cy="306.19" rx="2.4" ry="1.75"/><ellipse cx="247.0" cy="309.27" rx="2.4" ry="1.75"/><ellipse cx="247.0" cy="312.34" rx="2.4" ry="1.75"/><ellipse cx="247.0" cy="315.41" rx="2.4" ry="1.75"/><ellipse cx="247.0" cy="475.21" rx="2.4" ry="1.75"/><ellipse cx="247.0" cy="481.36" rx="2.4" ry="1.75"/><ellipse cx="247.0" cy="484.43" rx="2.4" ry="1.75"/></g>
<g fill="#160c82"><ellipse cx="253.9" cy="112.59" rx="2.4" ry="1.75"/><ellipse cx="253.9" cy="124.89" rx="2.4" ry="1.75"/><ellipse cx="253.9" cy="137.18" rx="2.4" ry="1.75"/><ellipse cx="253.9" cy="140.25" rx="2.4" ry="1.75"/><ellipse cx="253.9" cy="143.32" rx="2.4" ry="1.75"/><ellipse cx="253.9" cy="146.40" rx="2.4" ry="1.75"/><ellipse cx="253.9" cy="149.47" rx="2.4" ry="1.75"/><ellipse cx="253.9" cy="152.54" rx="2.4" ry="1.75"/><ellipse cx="253.9" cy="155.62" rx="2.4" ry="1.75"/><ellipse cx="253.9" cy="158.69" rx="2.4" ry="1.75"/><ellipse cx="253.9" cy="161.76" rx="2.4" ry="1.75"/><ellipse cx="253.9" cy="164.84" rx="2.4" ry="1.75"/><ellipse cx="253.9" cy="167.91" rx="2.4" ry="1.75"/><ellipse cx="253.9" cy="170.98" rx="2.4" ry="1.75"/><ellipse cx="253.9" cy="174.06" rx="2.4" ry="1.75"/><ellipse cx="253.9" cy="177.13" rx="2.4" ry="1.75"/><ellipse cx="253.9" cy="180.20" rx="2.4" ry="1.75"/><ellipse cx="253.9" cy="183.27" rx="2.4" ry="1.75"/><ellipse cx="253.9" cy="186.35" rx="2.4" ry="1.75"/><ellipse cx="253.9" cy="189.42" rx="2.4" ry="1.75"/><ellipse cx="253.9" cy="192.49" rx="2.4" ry="1.75"/><ellipse cx="253.9" cy="195.57" rx="2.4" ry="1.75"/><ellipse cx="253.9" cy="198.64" rx="2.4" ry="1.75"/><ellipse cx="253.9" cy="201.71" rx="2.4" ry="1.75"/><ellipse cx="253.9" cy="204.78" rx="2.4" ry="1.75"/><ellipse cx="253.9" cy="207.86" rx="2.4" ry="1.75"/><ellipse cx="253.9" cy="210.93" rx="2.4" ry="1.75"/><ellipse cx="253.9" cy="214.00" rx="2.4" ry="1.75"/><ellipse cx="253.9" cy="217.08" rx="2.4" ry="1.75"/><ellipse cx="253.9" cy="220.15" rx="2.4" ry="1.75"/><ellipse cx="253.9" cy="226.30" rx="2.4" ry="1.75"/><ellipse cx="253.9" cy="229.37" rx="2.4" ry="1.75"/><ellipse cx="253.9" cy="232.44" rx="2.4" ry="1.75"/><ellipse cx="253.9" cy="235.51" rx="2.4" ry="1.75"/><ellipse cx="253.9" cy="238.59" rx="2.4" ry="1.75"/><ellipse cx="253.9" cy="241.66" rx="2.4" ry="1.75"/><ellipse cx="253.9" cy="244.73" rx="2.4" ry="1.75"/><ellipse cx="253.9" cy="247.81" rx="2.4" ry="1.75"/><ellipse cx="253.9" cy="250.88" rx="2.4" ry="1.75"/><ellipse cx="253.9" cy="253.95" rx="2.4" ry="1.75"/><ellipse cx="253.9" cy="260.10" rx="2.4" ry="1.75"/><ellipse cx="253.9" cy="263.17" rx="2.4" ry="1.75"/><ellipse cx="253.9" cy="269.32" rx="2.4" ry="1.75"/><ellipse cx="253.9" cy="272.39" rx="2.4" ry="1.75"/><ellipse cx="253.9" cy="278.54" rx="2.4" ry="1.75"/><ellipse cx="253.9" cy="284.68" rx="2.4" ry="1.75"/><ellipse cx="253.9" cy="287.76" rx="2.4" ry="1.75"/><ellipse cx="253.9" cy="290.83" rx="2.4" ry="1.75"/><ellipse cx="253.9" cy="293.90" rx="2.4" ry="1.75"/><ellipse cx="253.9" cy="296.98" rx="2.4" ry="1.75"/><ellipse cx="253.9" cy="300.05" rx="2.4" ry="1.75"/><ellipse cx="253.9" cy="303.12" rx="2.4" ry="1.75"/><ellipse cx="253.9" cy="306.19" rx="2.4" ry="1.75"/><ellipse cx="253.9" cy="309.27" rx="2.4" ry="1.75"/><ellipse cx="253.9" cy="312.34" rx="2.4" ry="1.75"/><ellipse cx="253.9" cy="315.41" rx="2.4" ry="1.75"/><ellipse cx="253.9" cy="475.21" rx="2.4" ry="1.75"/><ellipse cx="253.9" cy="481.36" rx="2.4" ry="1.75"/><ellipse cx="253.9" cy="484.43" rx="2.4" ry="1.75"/></g>
<g fill="#f58cf2"><ellipse cx="261.0" cy="257.03" rx="2.4" ry="1.75"/><ellipse cx="261.0" cy="266.25" rx="2.4" ry="1.75"/><ellipse cx="261.0" cy="389.17" rx="2.4" ry="1.75"/><ellipse cx="261.0" cy="392.24" rx="2.4" ry="1.75"/><ellipse cx="261.0" cy="395.31" rx="2.4" ry="1.75"/><ellipse cx="261.0" cy="398.38" rx="2.4" ry="1.75"/><ellipse cx="261.0" cy="401.46" rx="2.4" ry="1.75"/><ellipse cx="261.0" cy="404.53" rx="2.4" ry="1.75"/><ellipse cx="261.0" cy="422.97" rx="2.4" ry="1.75"/><ellipse cx="261.0" cy="426.04" rx="2.4" ry="1.75"/><ellipse cx="261.0" cy="429.11" rx="2.4" ry="1.75"/><ellipse cx="261.0" cy="432.19" rx="2.4" ry="1.75"/><ellipse cx="261.0" cy="438.33" rx="2.4" ry="1.75"/><ellipse cx="261.0" cy="441.41" rx="2.4" ry="1.75"/><ellipse cx="261.0" cy="444.48" rx="2.4" ry="1.75"/><ellipse cx="261.0" cy="447.55" rx="2.4" ry="1.75"/><ellipse cx="261.0" cy="450.62" rx="2.4" ry="1.75"/><ellipse cx="261.0" cy="453.70" rx="2.4" ry="1.75"/><ellipse cx="261.0" cy="462.92" rx="2.4" ry="1.75"/><ellipse cx="261.0" cy="472.14" rx="2.4" ry="1.75"/><ellipse cx="261.0" cy="478.28" rx="2.4" ry="1.75"/><ellipse cx="261.0" cy="487.50" rx="2.4" ry="1.75"/><ellipse cx="261.0" cy="493.65" rx="2.4" ry="1.75"/><ellipse cx="261.0" cy="496.72" rx="2.4" ry="1.75"/><ellipse cx="261.0" cy="499.79" rx="2.4" ry="1.75"/><ellipse cx="261.0" cy="502.87" rx="2.4" ry="1.75"/><ellipse cx="261.0" cy="505.94" rx="2.4" ry="1.75"/><ellipse cx="261.0" cy="512.09" rx="2.4" ry="1.75"/><ellipse cx="261.0" cy="515.16" rx="2.4" ry="1.75"/><ellipse cx="261.0" cy="518.23" rx="2.4" ry="1.75"/><ellipse cx="261.0" cy="521.30" rx="2.4" ry="1.75"/><ellipse cx="261.0" cy="524.38" rx="2.4" ry="1.75"/><ellipse cx="261.0" cy="527.45" rx="2.4" ry="1.75"/><ellipse cx="261.0" cy="530.52" rx="2.4" ry="1.75"/><ellipse cx="261.0" cy="542.82" rx="2.4" ry="1.75"/><ellipse cx="261.0" cy="545.89" rx="2.4" ry="1.75"/><ellipse cx="261.0" cy="552.03" rx="2.4" ry="1.75"/><ellipse cx="261.0" cy="555.11" rx="2.4" ry="1.75"/><ellipse cx="261.0" cy="558.18" rx="2.4" ry="1.75"/><ellipse cx="261.0" cy="561.25" rx="2.4" ry="1.75"/><ellipse cx="261.0" cy="564.33" rx="2.4" ry="1.75"/><ellipse cx="261.0" cy="567.40" rx="2.4" ry="1.75"/><ellipse cx="261.0" cy="570.47" rx="2.4" ry="1.75"/><ellipse cx="261.0" cy="573.55" rx="2.4" ry="1.75"/><ellipse cx="261.0" cy="576.62" rx="2.4" ry="1.75"/><ellipse cx="261.0" cy="579.69" rx="2.4" ry="1.75"/><ellipse cx="261.0" cy="582.76" rx="2.4" ry="1.75"/><ellipse cx="261.0" cy="588.91" rx="2.4" ry="1.75"/><ellipse cx="261.0" cy="591.98" rx="2.4" ry="1.75"/><ellipse cx="261.0" cy="595.06" rx="2.4" ry="1.75"/><ellipse cx="261.0" cy="598.13" rx="2.4" ry="1.75"/><ellipse cx="261.0" cy="601.20" rx="2.4" ry="1.75"/><ellipse cx="261.0" cy="604.27" rx="2.4" ry="1.75"/><ellipse cx="261.0" cy="607.35" rx="2.4" ry="1.75"/><ellipse cx="261.0" cy="610.42" rx="2.4" ry="1.75"/><ellipse cx="261.0" cy="613.49" rx="2.4" ry="1.75"/><ellipse cx="261.0" cy="616.57" rx="2.4" ry="1.75"/><ellipse cx="261.0" cy="619.64" rx="2.4" ry="1.75"/><ellipse cx="261.0" cy="628.86" rx="2.4" ry="1.75"/><ellipse cx="261.0" cy="631.93" rx="2.4" ry="1.75"/><ellipse cx="261.0" cy="635.00" rx="2.4" ry="1.75"/><ellipse cx="261.0" cy="638.08" rx="2.4" ry="1.75"/><ellipse cx="261.0" cy="641.15" rx="2.4" ry="1.75"/><ellipse cx="261.0" cy="644.22" rx="2.4" ry="1.75"/><ellipse cx="261.0" cy="650.37" rx="2.4" ry="1.75"/><ellipse cx="261.0" cy="653.44" rx="2.4" ry="1.75"/><ellipse cx="261.0" cy="656.52" rx="2.4" ry="1.75"/><ellipse cx="261.0" cy="659.59" rx="2.4" ry="1.75"/><ellipse cx="261.0" cy="662.66" rx="2.4" ry="1.75"/><ellipse cx="261.0" cy="665.74" rx="2.4" ry="1.75"/><ellipse cx="261.0" cy="668.81" rx="2.4" ry="1.75"/><ellipse cx="261.0" cy="671.88" rx="2.4" ry="1.75"/><ellipse cx="261.0" cy="674.95" rx="2.4" ry="1.75"/><ellipse cx="261.0" cy="678.03" rx="2.4" ry="1.75"/><ellipse cx="261.0" cy="681.10" rx="2.4" ry="1.75"/><ellipse cx="261.0" cy="684.17" rx="2.4" ry="1.75"/><ellipse cx="261.0" cy="687.25" rx="2.4" ry="1.75"/><ellipse cx="261.0" cy="690.32" rx="2.4" ry="1.75"/><ellipse cx="261.0" cy="696.47" rx="2.4" ry="1.75"/><ellipse cx="261.0" cy="699.54" rx="2.4" ry="1.75"/><ellipse cx="261.0" cy="702.61" rx="2.4" ry="1.75"/><ellipse cx="261.0" cy="705.68" rx="2.4" ry="1.75"/><ellipse cx="261.0" cy="708.76" rx="2.4" ry="1.75"/><ellipse cx="261.0" cy="711.83" rx="2.4" ry="1.75"/><ellipse cx="261.0" cy="714.90" rx="2.4" ry="1.75"/><ellipse cx="261.0" cy="717.98" rx="2.4" ry="1.75"/></g>
<g fill="#a62fd2"><ellipse cx="267.8" cy="66.50" rx="2.4" ry="1.75"/><ellipse cx="267.8" cy="69.57" rx="2.4" ry="1.75"/><ellipse cx="267.8" cy="72.65" rx="2.4" ry="1.75"/><ellipse cx="267.8" cy="75.72" rx="2.4" ry="1.75"/><ellipse cx="267.8" cy="78.79" rx="2.4" ry="1.75"/><ellipse cx="267.8" cy="81.86" rx="2.4" ry="1.75"/><ellipse cx="267.8" cy="84.94" rx="2.4" ry="1.75"/><ellipse cx="267.8" cy="88.01" rx="2.4" ry="1.75"/><ellipse cx="267.8" cy="91.08" rx="2.4" ry="1.75"/><ellipse cx="267.8" cy="94.16" rx="2.4" ry="1.75"/><ellipse cx="267.8" cy="97.23" rx="2.4" ry="1.75"/><ellipse cx="267.8" cy="100.30" rx="2.4" ry="1.75"/><ellipse cx="267.8" cy="103.38" rx="2.4" ry="1.75"/><ellipse cx="267.8" cy="106.45" rx="2.4" ry="1.75"/><ellipse cx="267.8" cy="109.52" rx="2.4" ry="1.75"/><ellipse cx="267.8" cy="112.59" rx="2.4" ry="1.75"/><ellipse cx="267.8" cy="115.67" rx="2.4" ry="1.75"/><ellipse cx="267.8" cy="118.74" rx="2.4" ry="1.75"/><ellipse cx="267.8" cy="121.81" rx="2.4" ry="1.75"/><ellipse cx="267.8" cy="124.89" rx="2.4" ry="1.75"/><ellipse cx="267.8" cy="127.96" rx="2.4" ry="1.75"/><ellipse cx="267.8" cy="131.03" rx="2.4" ry="1.75"/><ellipse cx="267.8" cy="134.11" rx="2.4" ry="1.75"/><ellipse cx="267.8" cy="137.18" rx="2.4" ry="1.75"/><ellipse cx="267.8" cy="140.25" rx="2.4" ry="1.75"/><ellipse cx="267.8" cy="143.32" rx="2.4" ry="1.75"/><ellipse cx="267.8" cy="146.40" rx="2.4" ry="1.75"/><ellipse cx="267.8" cy="149.47" rx="2.4" ry="1.75"/><ellipse cx="267.8" cy="152.54" rx="2.4" ry="1.75"/><ellipse cx="267.8" cy="155.62" rx="2.4" ry="1.75"/><ellipse cx="267.8" cy="158.69" rx="2.4" ry="1.75"/><ellipse cx="267.8" cy="161.76" rx="2.4" ry="1.75"/><ellipse cx="267.8" cy="164.84" rx="2.4" ry="1.75"/><ellipse cx="267.8" cy="167.91" rx="2.4" ry="1.75"/><ellipse cx="267.8" cy="170.98" rx="2.4" ry="1.75"/><ellipse cx="267.8" cy="174.06" rx="2.4" ry="1.75"/><ellipse cx="267.8" cy="177.13" rx="2.4" ry="1.75"/><ellipse cx="267.8" cy="180.20" rx="2.4" ry="1.75"/><ellipse cx="267.8" cy="183.27" rx="2.4" ry="1.75"/><ellipse cx="267.8" cy="186.35" rx="2.4" ry="1.75"/><ellipse cx="267.8" cy="189.42" rx="2.4" ry="1.75"/><ellipse cx="267.8" cy="192.49" rx="2.4" ry="1.75"/><ellipse cx="267.8" cy="195.57" rx="2.4" ry="1.75"/><ellipse cx="267.8" cy="198.64" rx="2.4" ry="1.75"/><ellipse cx="267.8" cy="201.71" rx="2.4" ry="1.75"/><ellipse cx="267.8" cy="204.78" rx="2.4" ry="1.75"/><ellipse cx="267.8" cy="207.86" rx="2.4" ry="1.75"/><ellipse cx="267.8" cy="210.93" rx="2.4" ry="1.75"/><ellipse cx="267.8" cy="214.00" rx="2.4" ry="1.75"/><ellipse cx="267.8" cy="217.08" rx="2.4" ry="1.75"/><ellipse cx="267.8" cy="220.15" rx="2.4" ry="1.75"/><ellipse cx="267.8" cy="223.22" rx="2.4" ry="1.75"/><ellipse cx="267.8" cy="226.30" rx="2.4" ry="1.75"/><ellipse cx="267.8" cy="229.37" rx="2.4" ry="1.75"/><ellipse cx="267.8" cy="232.44" rx="2.4" ry="1.75"/><ellipse cx="267.8" cy="235.51" rx="2.4" ry="1.75"/><ellipse cx="267.8" cy="238.59" rx="2.4" ry="1.75"/><ellipse cx="267.8" cy="241.66" rx="2.4" ry="1.75"/><ellipse cx="267.8" cy="244.73" rx="2.4" ry="1.75"/><ellipse cx="267.8" cy="247.81" rx="2.4" ry="1.75"/><ellipse cx="267.8" cy="250.88" rx="2.4" ry="1.75"/><ellipse cx="267.8" cy="253.95" rx="2.4" ry="1.75"/><ellipse cx="267.8" cy="257.03" rx="2.4" ry="1.75"/><ellipse cx="267.8" cy="260.10" rx="2.4" ry="1.75"/><ellipse cx="267.8" cy="263.17" rx="2.4" ry="1.75"/><ellipse cx="267.8" cy="266.25" rx="2.4" ry="1.75"/><ellipse cx="267.8" cy="269.32" rx="2.4" ry="1.75"/><ellipse cx="267.8" cy="272.39" rx="2.4" ry="1.75"/><ellipse cx="267.8" cy="275.46" rx="2.4" ry="1.75"/><ellipse cx="267.8" cy="278.54" rx="2.4" ry="1.75"/><ellipse cx="267.8" cy="281.61" rx="2.4" ry="1.75"/><ellipse cx="267.8" cy="284.68" rx="2.4" ry="1.75"/><ellipse cx="267.8" cy="287.76" rx="2.4" ry="1.75"/><ellipse cx="267.8" cy="290.83" rx="2.4" ry="1.75"/><ellipse cx="267.8" cy="293.90" rx="2.4" ry="1.75"/><ellipse cx="267.8" cy="296.98" rx="2.4" ry="1.75"/><ellipse cx="267.8" cy="300.05" rx="2.4" ry="1.75"/><ellipse cx="267.8" cy="303.12" rx="2.4" ry="1.75"/><ellipse cx="267.8" cy="306.19" rx="2.4" ry="1.75"/><ellipse cx="267.8" cy="309.27" rx="2.4" ry="1.75"/><ellipse cx="267.8" cy="312.34" rx="2.4" ry="1.75"/><ellipse cx="267.8" cy="315.41" rx="2.4" ry="1.75"/><ellipse cx="267.8" cy="318.49" rx="2.4" ry="1.75"/><ellipse cx="267.8" cy="321.56" rx="2.4" ry="1.75"/><ellipse cx="267.8" cy="324.63" rx="2.4" ry="1.75"/><ellipse cx="267.8" cy="327.70" rx="2.4" ry="1.75"/><ellipse cx="267.8" cy="330.78" rx="2.4" ry="1.75"/><ellipse cx="267.8" cy="333.85" rx="2.4" ry="1.75"/><ellipse cx="267.8" cy="336.92" rx="2.4" ry="1.75"/><ellipse cx="267.8" cy="340.00" rx="2.4" ry="1.75"/><ellipse cx="267.8" cy="343.07" rx="2.4" ry="1.75"/><ellipse cx="267.8" cy="346.14" rx="2.4" ry="1.75"/><ellipse cx="267.8" cy="349.22" rx="2.4" ry="1.75"/><ellipse cx="267.8" cy="352.29" rx="2.4" ry="1.75"/><ellipse cx="267.8" cy="355.36" rx="2.4" ry="1.75"/><ellipse cx="267.8" cy="358.44" rx="2.4" ry="1.75"/><ellipse cx="267.8" cy="361.51" rx="2.4" ry="1.75"/><ellipse cx="267.8" cy="364.58" rx="2.4" ry="1.75"/><ellipse cx="267.8" cy="367.65" rx="2.4" ry="1.75"/><ellipse cx="267.8" cy="370.73" rx="2.4" ry="1.75"/><ellipse cx="267.8" cy="373.80" rx="2.4" ry="1.75"/><ellipse cx="267.8" cy="376.87" rx="2.4" ry="1.75"/><ellipse cx="267.8" cy="379.95" rx="2.4" ry="1.75"/><ellipse cx="267.8" cy="383.02" rx="2.4" ry="1.75"/><ellipse cx="267.8" cy="386.09" rx="2.4" ry="1.75"/><ellipse cx="267.8" cy="389.17" rx="2.4" ry="1.75"/><ellipse cx="267.8" cy="392.24" rx="2.4" ry="1.75"/><ellipse cx="267.8" cy="395.31" rx="2.4" ry="1.75"/><ellipse cx="267.8" cy="398.38" rx="2.4" ry="1.75"/><ellipse cx="267.8" cy="401.46" rx="2.4" ry="1.75"/><ellipse cx="267.8" cy="404.53" rx="2.4" ry="1.75"/><ellipse cx="267.8" cy="407.60" rx="2.4" ry="1.75"/><ellipse cx="267.8" cy="410.68" rx="2.4" ry="1.75"/><ellipse cx="267.8" cy="413.75" rx="2.4" ry="1.75"/><ellipse cx="267.8" cy="416.82" rx="2.4" ry="1.75"/><ellipse cx="267.8" cy="419.89" rx="2.4" ry="1.75"/><ellipse cx="267.8" cy="422.97" rx="2.4" ry="1.75"/><ellipse cx="267.8" cy="426.04" rx="2.4" ry="1.75"/><ellipse cx="267.8" cy="429.11" rx="2.4" ry="1.75"/><ellipse cx="267.8" cy="432.19" rx="2.4" ry="1.75"/><ellipse cx="267.8" cy="435.26" rx="2.4" ry="1.75"/><ellipse cx="267.8" cy="438.33" rx="2.4" ry="1.75"/><ellipse cx="267.8" cy="441.41" rx="2.4" ry="1.75"/><ellipse cx="267.8" cy="444.48" rx="2.4" ry="1.75"/><ellipse cx="267.8" cy="447.55" rx="2.4" ry="1.75"/><ellipse cx="267.8" cy="450.62" rx="2.4" ry="1.75"/><ellipse cx="267.8" cy="453.70" rx="2.4" ry="1.75"/><ellipse cx="267.8" cy="456.77" rx="2.4" ry="1.75"/><ellipse cx="267.8" cy="459.84" rx="2.4" ry="1.75"/><ellipse cx="267.8" cy="462.92" rx="2.4" ry="1.75"/><ellipse cx="267.8" cy="465.99" rx="2.4" ry="1.75"/><ellipse cx="267.8" cy="469.06" rx="2.4" ry="1.75"/><ellipse cx="267.8" cy="472.14" rx="2.4" ry="1.75"/><ellipse cx="267.8" cy="475.21" rx="2.4" ry="1.75"/><ellipse cx="267.8" cy="478.28" rx="2.4" ry="1.75"/><ellipse cx="267.8" cy="481.36" rx="2.4" ry="1.75"/><ellipse cx="267.8" cy="484.43" rx="2.4" ry="1.75"/><ellipse cx="267.8" cy="487.50" rx="2.4" ry="1.75"/><ellipse cx="267.8" cy="490.57" rx="2.4" ry="1.75"/><ellipse cx="267.8" cy="493.65" rx="2.4" ry="1.75"/><ellipse cx="267.8" cy="496.72" rx="2.4" ry="1.75"/><ellipse cx="267.8" cy="499.79" rx="2.4" ry="1.75"/><ellipse cx="267.8" cy="502.87" rx="2.4" ry="1.75"/><ellipse cx="267.8" cy="505.94" rx="2.4" ry="1.75"/><ellipse cx="267.8" cy="509.01" rx="2.4" ry="1.75"/><ellipse cx="267.8" cy="512.09" rx="2.4" ry="1.75"/><ellipse cx="267.8" cy="515.16" rx="2.4" ry="1.75"/><ellipse cx="267.8" cy="518.23" rx="2.4" ry="1.75"/><ellipse cx="267.8" cy="521.30" rx="2.4" ry="1.75"/><ellipse cx="267.8" cy="524.38" rx="2.4" ry="1.75"/><ellipse cx="267.8" cy="527.45" rx="2.4" ry="1.75"/><ellipse cx="267.8" cy="530.52" rx="2.4" ry="1.75"/><ellipse cx="267.8" cy="542.82" rx="2.4" ry="1.75"/><ellipse cx="267.8" cy="545.89" rx="2.4" ry="1.75"/><ellipse cx="267.8" cy="548.96" rx="2.4" ry="1.75"/><ellipse cx="267.8" cy="552.03" rx="2.4" ry="1.75"/><ellipse cx="267.8" cy="555.11" rx="2.4" ry="1.75"/><ellipse cx="267.8" cy="558.18" rx="2.4" ry="1.75"/><ellipse cx="267.8" cy="561.25" rx="2.4" ry="1.75"/><ellipse cx="267.8" cy="564.33" rx="2.4" ry="1.75"/><ellipse cx="267.8" cy="567.40" rx="2.4" ry="1.75"/><ellipse cx="267.8" cy="570.47" rx="2.4" ry="1.75"/><ellipse cx="267.8" cy="573.55" rx="2.4" ry="1.75"/><ellipse cx="267.8" cy="576.62" rx="2.4" ry="1.75"/><ellipse cx="267.8" cy="579.69" rx="2.4" ry="1.75"/><ellipse cx="267.8" cy="582.76" rx="2.4" ry="1.75"/><ellipse cx="267.8" cy="585.84" rx="2.4" ry="1.75"/><ellipse cx="267.8" cy="588.91" rx="2.4" ry="1.75"/><ellipse cx="267.8" cy="591.98" rx="2.4" ry="1.75"/><ellipse cx="267.8" cy="595.06" rx="2.4" ry="1.75"/><ellipse cx="267.8" cy="598.13" rx="2.4" ry="1.75"/><ellipse cx="267.8" cy="601.20" rx="2.4" ry="1.75"/><ellipse cx="267.8" cy="604.27" rx="2.4" ry="1.75"/><ellipse cx="267.8" cy="607.35" rx="2.4" ry="1.75"/><ellipse cx="267.8" cy="610.42" rx="2.4" ry="1.75"/><ellipse cx="267.8" cy="613.49" rx="2.4" ry="1.75"/><ellipse cx="267.8" cy="616.57" rx="2.4" ry="1.75"/><ellipse cx="267.8" cy="619.64" rx="2.4" ry="1.75"/><ellipse cx="267.8" cy="622.71" rx="2.4" ry="1.75"/><ellipse cx="267.8" cy="625.79" rx="2.4" ry="1.75"/><ellipse cx="267.8" cy="628.86" rx="2.4" ry="1.75"/><ellipse cx="267.8" cy="631.93" rx="2.4" ry="1.75"/><ellipse cx="267.8" cy="635.00" rx="2.4" ry="1.75"/><ellipse cx="267.8" cy="638.08" rx="2.4" ry="1.75"/><ellipse cx="267.8" cy="641.15" rx="2.4" ry="1.75"/><ellipse cx="267.8" cy="644.22" rx="2.4" ry="1.75"/><ellipse cx="267.8" cy="647.30" rx="2.4" ry="1.75"/><ellipse cx="267.8" cy="650.37" rx="2.4" ry="1.75"/><ellipse cx="267.8" cy="653.44" rx="2.4" ry="1.75"/><ellipse cx="267.8" cy="656.52" rx="2.4" ry="1.75"/><ellipse cx="267.8" cy="659.59" rx="2.4" ry="1.75"/><ellipse cx="267.8" cy="662.66" rx="2.4" ry="1.75"/><ellipse cx="267.8" cy="665.74" rx="2.4" ry="1.75"/><ellipse cx="267.8" cy="668.81" rx="2.4" ry="1.75"/><ellipse cx="267.8" cy="671.88" rx="2.4" ry="1.75"/><ellipse cx="267.8" cy="674.95" rx="2.4" ry="1.75"/><ellipse cx="267.8" cy="678.03" rx="2.4" ry="1.75"/><ellipse cx="267.8" cy="681.10" rx="2.4" ry="1.75"/><ellipse cx="267.8" cy="684.17" rx="2.4" ry="1.75"/><ellipse cx="267.8" cy="687.25" rx="2.4" ry="1.75"/><ellipse cx="267.8" cy="690.32" rx="2.4" ry="1.75"/><ellipse cx="267.8" cy="693.39" rx="2.4" ry="1.75"/><ellipse cx="267.8" cy="696.47" rx="2.4" ry="1.75"/><ellipse cx="267.8" cy="699.54" rx="2.4" ry="1.75"/><ellipse cx="267.8" cy="702.61" rx="2.4" ry="1.75"/><ellipse cx="267.8" cy="705.68" rx="2.4" ry="1.75"/><ellipse cx="267.8" cy="708.76" rx="2.4" ry="1.75"/><ellipse cx="267.8" cy="711.83" rx="2.4" ry="1.75"/><ellipse cx="267.8" cy="714.90" rx="2.4" ry="1.75"/><ellipse cx="267.8" cy="717.98" rx="2.4" ry="1.75"/></g>
</g>
<!-- node HPD bars -->
<g fill="#2b22ef">
<rect x="32" y="119.4" width="70.8" height="4.2"/>
<rect x="132.6" y="124" width="41.2" height="4"/>
<rect x="111.2" y="153.8" width="46.4" height="4.1"/>
<rect x="187" y="71.8" width="14" height="4.2"/>
<rect x="105.8" y="414.8" width="38.8" height="4"/>
<rect x="179.8" y="481" width="7.5" height="4"/>
</g>
<g font-size="17.8" fill="#111" stroke="#111" stroke-width="0.25">
<text x="138.1" y="77.7">~2017</text>
<text x="28.6" y="118">~1967</text>
<text x="105.6" y="121.4">~1998</text>
<text x="91" y="152">~1992</text>
<text x="77.4" y="414.8">~1989</text>
<text x="133.8" y="480.5">~2011</text>
</g>
<!-- header labels -->
<g font-size="8.8" fill="#111" stroke="#111" stroke-width="0.15">
<text transform="translate(217.3,62.2) rotate(-90)" textLength="37.8" lengthAdjust="spacingAndGlyphs">Continent</text>
<text transform="translate(227,62.2) rotate(-90)" textLength="35.4" lengthAdjust="spacingAndGlyphs">SCCmec</text>
<text transform="translate(235.3,61.8) rotate(-90)" textLength="46.0" lengthAdjust="spacingAndGlyphs">APH(3')-IIIa</text>
<text transform="translate(243.3,62.4) rotate(-90)" textLength="61.4" lengthAdjust="spacingAndGlyphs">PC1 Type blaZ</text>
<text transform="translate(249.8,62.3) rotate(-90)" textLength="22.7" lengthAdjust="spacingAndGlyphs">mecA</text>
<text transform="translate(256,62.1) rotate(-90)" textLength="20.6" lengthAdjust="spacingAndGlyphs">dfrG</text>
<text transform="translate(262.8,61.9) rotate(-90)" textLength="21.7" lengthAdjust="spacingAndGlyphs">tet(L)</text>
<text transform="translate(270,61.8) rotate(-90)" textLength="18.5" lengthAdjust="spacingAndGlyphs">fosB</text>
</g>
<!-- time axis -->
<path d="M13 729.6H216.3" stroke="#000" stroke-width="1.8"/>
<g stroke="#222" stroke-width="1">
<path d="M13.7 729.6V735.5M39.1 729.6V735.5M64.4 729.6V735.5M89.8 729.6V735.5M115.2 729.6V735.5M140.5 729.6V735.5M165.9 729.6V735.5M191.2 729.6V735.5M216.3 729.6V735.5"/>
<path d="M26.4 729.6V733M51.7 729.6V733M77.1 729.6V733M102.5 729.6V733M127.8 729.6V733M153.2 729.6V733M178.5 729.6V733M203.8 729.6V733" stroke="#555"/>
</g>
<g font-size="12.3" fill="#111" text-anchor="end">
<text transform="translate(19.8,737.6) rotate(-90)">1943</text>
<text transform="translate(45.2,737.6) rotate(-90)">1953</text>
<text transform="translate(70.5,737.6) rotate(-90)">1963</text>
<text transform="translate(95.9,737.6) rotate(-90)">1973</text>
<text transform="translate(121.3,737.6) rotate(-90)">1983</text>
<text transform="translate(146.6,737.6) rotate(-90)">1993</text>
<text transform="translate(172,737.6) rotate(-90)">2003</text>
<text transform="translate(197.3,737.6) rotate(-90)">2013</text>
<text transform="translate(222.6,737.6) rotate(-90)">2023</text>
</g>
<!-- scale bar -->
<path d="M120.2 708.8H135.3" stroke="#000" stroke-width="2"/>
<text x="127.7" y="719.6" font-size="12" text-anchor="middle" fill="#111">6.0</text>

<!-- Plot B -->
<rect x="350.2" y="51.9" width="332.8" height="322.5" fill="#ebebeb"/>
<g stroke="#fbfbfb" stroke-width="0.6">
<path d="M350.2 68.1H683M350.2 143H683M350.2 218H683M350.2 293H683M350.2 368H683"/>
<path d="M402.3 51.9V374.4M511.1 51.9V374.4M619.7 51.9V374.4"/>
</g>
<g stroke="#fff" stroke-width="1.2">
<path d="M350.2 105.5H683M350.2 180.5H683M350.2 255.5H683M350.2 330.5H683"/>
<path d="M456.7 51.9V374.4M565.5 51.9V374.4M674 51.9V374.4"/>
</g>
<path d="M365.5 153.5C366.2 156.2 368.8 165.2 370.0 170.0C371.2 174.8 371.8 178.0 373.0 182.0C374.2 186.0 375.8 191.1 377.5 194.0C379.2 196.9 381.5 198.2 383.5 199.5C385.5 200.8 387.5 201.5 389.5 201.6C391.5 201.7 393.5 200.8 395.5 200.0C397.5 199.2 399.5 198.8 401.5 197.0C403.5 195.2 405.2 192.0 407.5 189.5C409.8 187.0 412.5 184.0 415.0 182.0C417.5 180.0 420.6 178.5 422.6 177.5C424.6 176.5 425.3 175.7 427.0 176.0C428.7 176.3 430.5 178.8 433.0 179.6C435.5 180.3 439.2 180.2 442.0 180.5C444.8 180.8 447.5 181.2 450.0 181.6C452.5 182.0 454.7 183.4 457.0 182.8C459.3 182.2 461.3 180.1 464.0 178.1C466.7 176.1 470.3 173.6 473.4 171.1C476.5 168.6 479.6 165.7 482.7 162.9C485.8 160.1 488.9 156.5 492.0 154.3C495.1 152.1 498.3 150.9 501.4 149.6C504.5 148.3 507.6 147.6 510.7 146.6C513.8 145.6 516.9 144.6 520.0 143.5C523.1 142.4 526.3 141.7 529.4 140.3C532.5 138.9 536.1 137.2 538.8 134.9C541.5 132.6 543.5 129.2 545.8 126.7C548.1 124.2 550.4 121.7 552.8 119.7C555.2 117.7 557.6 115.5 560.0 114.8C562.4 114.1 564.7 116.0 567.0 115.4C569.3 114.8 571.4 112.6 574.0 111.0C576.6 109.4 579.9 108.7 582.8 105.8C585.7 102.9 588.9 97.3 591.5 93.5C594.1 89.7 596.2 86.3 598.5 83.0C600.8 79.7 603.1 75.8 605.5 73.4C607.9 71.0 610.4 69.8 612.6 68.7C614.8 67.6 616.4 66.9 618.7 66.9C621.0 67.0 623.8 68.1 626.6 69.0C629.4 69.9 632.4 70.6 635.3 72.5C638.2 74.4 640.9 77.2 644.1 80.4C647.3 83.6 651.7 89.0 654.6 91.8C657.5 94.6 659.4 96.0 661.6 97.0C663.8 98.0 666.7 97.8 667.7 97.9L667.7 285.7C667.1 279.4 665.4 260.5 664.3 248.0C663.2 235.5 662.5 223.6 661.2 210.5C659.9 197.4 658.1 180.4 656.5 169.7C654.9 158.9 653.6 152.3 651.8 146.0C650.0 139.7 648.2 136.9 645.8 132.0C643.3 127.0 639.7 121.0 637.1 116.3C634.5 111.6 632.2 107.4 630.1 104.0C628.0 100.6 626.5 97.8 624.8 96.1C623.0 94.3 621.6 94.1 619.6 93.5C617.6 92.9 615.0 92.2 612.6 92.6C610.2 92.9 608.4 93.4 605.5 95.6C602.6 97.8 598.5 101.3 595.0 105.8C591.5 110.3 587.6 118.1 584.5 122.4C581.4 126.7 579.1 129.5 576.1 131.4C573.1 133.3 569.9 132.9 566.8 133.7C563.7 134.5 560.6 134.1 557.5 136.0C554.4 137.9 551.2 141.9 548.1 145.4C545.0 148.9 541.9 153.6 538.8 157.1C535.7 160.6 532.5 164.3 529.4 166.4C526.3 168.5 523.5 168.7 520.0 169.9C516.5 171.1 512.3 171.2 508.4 173.4C504.5 175.6 500.6 179.9 496.7 182.8C492.8 185.7 488.5 187.6 485.0 190.9C481.5 194.2 478.8 198.5 475.7 202.6C472.6 206.7 469.5 211.8 466.4 215.5C463.3 219.2 459.7 222.5 457.0 224.8C454.3 227.1 453.0 228.1 450.0 229.5C447.0 230.9 442.3 231.4 439.0 233.0C435.7 234.6 433.0 237.1 430.0 239.0C427.0 240.9 423.5 243.7 421.0 244.5C418.5 245.3 417.0 243.5 415.0 243.6C413.0 243.7 411.5 242.8 409.0 245.0C406.5 247.2 403.0 252.5 400.0 257.0C397.0 261.5 393.8 266.0 391.0 272.0C388.2 278.0 386.0 285.5 383.5 293.0C381.0 300.5 378.2 309.0 376.0 317.0C373.8 325.0 371.8 334.0 370.0 341.0C368.2 348.0 366.2 356.2 365.5 359.2Z" fill="#0000ff" fill-opacity="0.2"/>
<path d="M365.5 291.7C366.8 289.4 370.0 283.3 373.0 278.0C376.0 272.7 380.0 266.0 383.5 260.0C387.0 254.0 390.8 247.5 394.0 242.0C397.2 236.5 400.5 230.7 403.0 227.0C405.5 223.3 406.0 222.2 409.0 219.6C412.0 217.0 417.0 213.5 421.0 211.5C425.0 209.5 429.0 208.6 433.0 207.6C437.0 206.6 441.8 205.9 445.0 205.5C448.2 205.1 450.0 205.2 452.0 205.0C454.0 204.8 455.0 205.3 457.0 204.5C459.0 203.7 461.3 202.8 464.0 200.3C466.7 197.9 470.3 193.3 473.4 189.8C476.5 186.3 479.6 182.2 482.7 179.3C485.8 176.4 488.5 174.3 492.0 172.2C495.5 170.0 499.8 168.4 503.7 166.4C507.6 164.4 511.1 162.0 515.4 159.9C519.7 157.8 525.5 156.0 529.4 153.6C533.3 151.2 535.7 148.3 538.8 145.4C541.9 142.5 545.0 138.9 548.1 136.0C551.2 133.1 554.8 129.7 557.5 127.9C560.2 126.2 562.4 126.0 564.5 125.5C566.6 125.0 568.1 125.5 570.0 124.8C571.9 124.1 573.4 123.8 575.8 121.5C578.2 119.2 581.6 114.9 584.5 111.0C587.4 107.1 590.4 101.8 593.3 97.9C596.2 94.0 599.1 90.2 602.0 87.4C604.9 84.6 608.2 82.5 610.8 81.3C613.4 80.1 615.8 80.4 617.8 80.4C619.8 80.5 621.0 80.6 623.1 81.6C625.2 82.6 627.5 83.9 630.1 86.5C632.7 89.1 635.9 92.6 638.8 97.0C641.7 101.4 644.8 107.0 647.6 112.8C650.4 118.6 653.2 125.1 655.5 132.0C657.8 138.9 659.2 144.6 661.2 154.0C663.2 163.4 666.7 182.8 667.8 188.5" fill="none" stroke="#151525" stroke-width="1.05"/>
<!-- axis ticks -->
<g stroke="#333" stroke-width="1">
<path d="M348 105.5H350.2M348 180.5H350.2M348 255.5H350.2M348 330.5H350.2"/>
<path d="M456.7 374.4V377.2M565.5 374.4V377.2M674 374.4V377.2"/>
</g>
<g font-size="12.3" fill="#333" text-anchor="end" lengthAdjust="spacingAndGlyphs">
<text x="347.6" y="109.6" textLength="25.9" lengthAdjust="spacingAndGlyphs">1000</text>
<text x="347.6" y="184.6" textLength="19.45" lengthAdjust="spacingAndGlyphs">100</text>
<text x="347.6" y="259.6" textLength="12.97" lengthAdjust="spacingAndGlyphs">10</text>
<text x="347.6" y="334.6" textLength="6.48" lengthAdjust="spacingAndGlyphs">1</text>
</g>
<g font-size="12.4" fill="#333" text-anchor="middle">
<text x="455" y="387.2">-40</text>
<text x="564" y="387.2">-20</text>
<text x="673.8" y="387.2">0</text>
</g>
<text x="414.3" y="411.6" font-size="15.8" fill="#111">Time before most recent sample</text>
<text transform="translate(313.8,289.3) rotate(-90)" font-size="15.8" fill="#111">Effective population size</text>
<!-- arrow -->
<path d="M504.5 168L511.1 177.6H507.6V198H502.1V177.6H498.4Z" fill="#000"/>
<text x="500.3" y="213.4" font-size="13.8" font-weight="bold" fill="#111">SCCmec Type IVc</text>

<!-- Legends -->
<g font-size="15.2" fill="#111">
<text x="334.5" y="479" font-weight="bold">Continent</text>
<g stroke="#444" stroke-width="0.8">
<circle cx="342.2" cy="496.7" r="8.9" fill="#8ee34c"/>
<circle cx="342.2" cy="515.8" r="8.9" fill="#ff2121"/>
<circle cx="342.2" cy="535" r="8.9" fill="#3d4dff"/>
<circle cx="342.2" cy="554" r="8.9" fill="#e4886a"/>
<circle cx="342.2" cy="573" r="8.9" fill="#92208f"/>
</g>
<text x="355.5" y="502.4">Asia</text>
<text x="355.5" y="521.5">Europe</text>
<text x="355.5" y="540.7">North America</text>
<text x="355.5" y="559.7">Oceania</text>
<text x="355.5" y="578.7">South America</text>

<text x="487.2" y="478.6" font-weight="bold">SCCmec</text>
<rect x="490.2" y="486.4" width="28.6" height="14.7" fill="#b01a12"/>
<rect x="490.2" y="505.7" width="28.6" height="14.7" fill="#e8cd32"/>
<rect x="490.2" y="525.1" width="28.6" height="14.7" fill="#1c2e52"/>
<text x="521.9" y="499.3">Type Ia</text>
<text x="521.9" y="518.6">Type IVa</text>
<text x="521.9" y="538">Type IVc</text>

<text x="333.1" y="629.8" font-weight="bold">Antimicrobial class</text>
<g stroke="#444" stroke-width="0.8">
<circle cx="342.2" cy="644.4" r="8.9" fill="#9b1b2a"/>
<circle cx="342.2" cy="663.6" r="8.9" fill="#f08a8a"/>
<circle cx="342.2" cy="682.6" r="8.9" fill="#160c82"/>
<circle cx="342.2" cy="701.6" r="8.9" fill="#a62fd2"/>
<circle cx="342.2" cy="720.3" r="8.9" fill="#f58cf2"/>
</g>
<text x="355" y="650">Aminoglycoside</text>
<text x="355" y="669.2">Beta-lactam</text>
<text x="355" y="688.2">Diaminopyrimidine</text>
<text x="355" y="707.2">Phosphonic acid</text>
<text x="355" y="725.9">Tetracycline</text>
</g>
</svg>
</body></html>
